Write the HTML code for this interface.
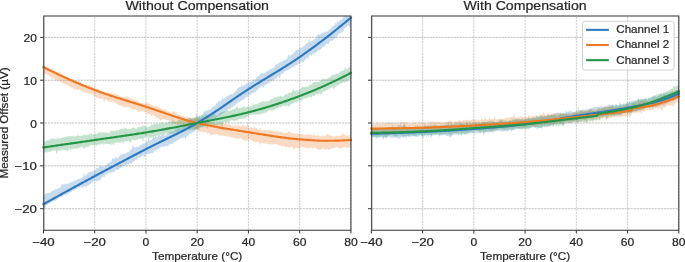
<!DOCTYPE html><html><head><meta charset="utf-8"><style>html,body{margin:0;padding:0;background:#fff;}svg{display:block;will-change:transform;}text{font-family:"Liberation Sans", sans-serif;stroke:#262626;stroke-width:0.22px;}</style></head><body>
<svg width="685" height="262" viewBox="0 0 685 262">
<rect width="685" height="262" fill="#fff"/>
<path d="M43.5 230.1V15.95M94.73 230.1V15.95M145.97 230.1V15.95M197.2 230.1V15.95M248.43 230.1V15.95M299.67 230.1V15.95M350.9 230.1V15.95" stroke="#c2c2c2" stroke-width="0.8" stroke-dasharray="2.2 0.8" stroke-dashoffset="-1.0" fill="none"/>
<path d="M43.5 208.69H350.9M43.5 165.85H350.9M43.5 123.03H350.9M43.5 80.2H350.9M43.5 37.37H350.9" stroke="#adadad" stroke-width="0.8" stroke-dasharray="2.2 0.8" stroke-dashoffset="-1.2" fill="none"/>
<polygon points="43.5,195.98 43.94,195.21 44.38,194.7 44.82,193.93 45.26,193.88 45.7,193.59 46.14,193.86 46.58,192.69 47.02,193.16 47.46,192.8 47.9,192.81 48.34,192.85 48.78,193.04 49.22,192.62 49.66,193.15 50.1,192.65 50.54,191.68 50.98,192.54 51.42,191.05 51.86,191.26 52.3,190.56 52.74,191.07 53.17,189.82 53.61,190.63 54.05,190.49 54.49,190.37 54.93,188.48 55.37,189.55 55.81,189.6 56.25,189.45 56.69,188.51 57.13,189.13 57.57,188.88 58.01,188.81 58.45,188.11 58.89,187.99 59.33,188.27 59.77,187.69 60.21,187.75 60.65,187.28 61.09,186.84 61.53,185.12 61.97,183.32 62.41,184.8 62.85,184.56 63.29,184.25 63.73,184.49 64.17,184.78 64.61,183.96 65.05,182.9 65.49,183.92 65.93,183.94 66.37,184.84 66.81,184.06 67.25,184.06 67.69,183.82 68.13,183.98 68.57,183.27 69.01,182.69 69.45,183.11 69.89,183.05 70.33,182.64 70.77,182.51 71.21,181.28 71.65,182.02 72.09,182.1 72.52,181.48 72.96,180.98 73.4,181.12 73.84,181.25 74.28,181.23 74.72,180.08 75.16,180.84 75.6,180.63 76.04,180.08 76.48,179.99 76.92,180.05 77.36,179.79 77.8,179.78 78.24,178.46 78.68,179.21 79.12,179.01 79.56,179.08 80,179.2 80.44,179.06 80.88,177.85 81.32,178.23 81.76,177.66 82.2,177.05 82.64,177.37 83.08,177.55 83.52,174.79 83.96,173.36 84.4,173.75 84.84,176.36 85.28,175.65 85.72,174.97 86.16,175.58 86.6,174.34 87.04,173.49 87.48,174.32 87.92,173.3 88.36,173.3 88.8,171.6 89.24,172.16 89.68,171.97 90.12,172.19 90.56,171.79 91,171.81 91.44,171.81 91.87,171.07 92.31,170.97 92.75,170.79 93.19,171.58 93.63,171.5 94.07,170.65 94.51,170.86 94.95,170.18 95.39,169.94 95.83,168.75 96.27,167.52 96.71,168.19 97.15,169.62 97.59,167.46 98.03,167.73 98.47,168.08 98.91,166.75 99.35,167.18 99.79,166.53 100.23,166.98 100.67,165.9 101.11,165.18 101.55,166.15 101.99,166.07 102.43,166.82 102.87,166.54 103.31,167.27 103.75,166.74 104.19,166.76 104.63,166.07 105.07,165.76 105.51,165.77 105.95,165.61 106.39,164.7 106.83,164.64 107.27,163.49 107.71,163.12 108.15,163.77 108.59,163.11 109.03,163.26 109.47,162.22 109.91,161.96 110.35,161.76 110.78,161.84 111.22,161.42 111.66,161.11 112.1,158.7 112.54,157.89 112.98,157.68 113.42,159.12 113.86,158.79 114.3,158.89 114.74,158.16 115.18,157.14 115.62,157.33 116.06,157.33 116.5,157.2 116.94,157.86 117.38,158.19 117.82,157.7 118.26,157.14 118.7,157.02 119.14,156.57 119.58,156.4 120.02,155.15 120.46,154.76 120.9,154.15 121.34,154.65 121.78,154.79 122.22,154.71 122.66,154.19 123.1,153.8 123.54,153.57 123.98,153.96 124.42,153.94 124.86,153.86 125.3,153.04 125.74,153.45 126.18,153.13 126.62,152.91 127.06,152.23 127.5,152.31 127.94,152.17 128.38,152.54 128.82,152.16 129.26,151.59 129.7,150.93 130.13,150.12 130.57,150.25 131.01,149.3 131.45,149.08 131.89,149.06 132.33,146.87 132.77,145.03 133.21,145.34 133.65,147.3 134.09,147.26 134.53,147 134.97,147.82 135.41,147.37 135.85,147.84 136.29,147.05 136.73,146.19 137.17,145.97 137.61,147.14 138.05,147.06 138.49,146.55 138.93,146.65 139.37,145.84 139.81,144.85 140.25,145.66 140.69,145.08 141.13,144.39 141.57,144.82 142.01,145.02 142.45,143.98 142.89,143.57 143.33,143.84 143.77,143.17 144.21,143.02 144.65,143.64 145.09,142.96 145.53,142.74 145.97,142.27 146.41,141.17 146.85,141.14 147.29,141.39 147.73,141.77 148.17,140.4 148.61,138.75 149.05,140.01 149.48,140.5 149.92,140.72 150.36,140.69 150.8,140.65 151.24,139.87 151.68,140.37 152.12,138.75 152.56,139.38 153,138.17 153.44,137 153.88,138.27 154.32,137.59 154.76,138.19 155.2,136.16 155.64,135 156.08,135.1 156.52,137.24 156.96,137.34 157.4,137.2 157.84,137.1 158.28,135.33 158.72,135.02 159.16,135.57 159.6,135.89 160.04,136.05 160.48,135.9 160.92,136.09 161.36,135.37 161.8,136 162.24,135.88 162.68,134.95 163.12,134.77 163.56,134.71 164,135.46 164.44,135.33 164.88,135.68 165.32,134.12 165.76,135.15 166.2,135.05 166.64,134.72 167.08,133.84 167.52,134.19 167.96,133.96 168.39,133.05 168.83,133.15 169.27,133.12 169.71,131.66 170.15,132.2 170.59,132.2 171.03,131.28 171.47,131.02 171.91,131.44 172.35,131.16 172.79,131.21 173.23,131.39 173.67,131.18 174.11,130.93 174.55,130.35 174.99,130.12 175.43,128.58 175.87,128.7 176.31,129.08 176.75,128.47 177.19,128.19 177.63,127.12 178.07,127.69 178.51,127.86 178.95,127.65 179.39,127.23 179.83,128.14 180.27,127.55 180.71,127.92 181.15,127.79 181.59,127.52 182.03,127.37 182.47,126.33 182.91,127.32 183.35,126.76 183.79,126.53 184.23,126.48 184.67,125.73 185.11,125.05 185.55,125.42 185.99,125.07 186.43,125.01 186.87,124.98 187.31,123.81 187.74,123.54 188.18,121.73 188.62,121.16 189.06,119.98 189.5,120.33 189.94,119.74 190.38,117.81 190.82,118.45 191.26,119.85 191.7,119.51 192.14,119.44 192.58,119 193.02,119.76 193.46,119.37 193.9,118.27 194.34,119.12 194.78,118.89 195.22,118.02 195.66,118.4 196.1,116.92 196.54,117.48 196.98,117.03 197.42,116.83 197.86,116.78 198.3,116.72 198.74,116.48 199.18,116 199.62,115.29 200.06,115.08 200.5,115.56 200.94,115.6 201.38,115.32 201.82,114.96 202.26,113.52 202.7,114.39 203.14,114.26 203.58,111.16 204.02,110.89 204.46,110.66 204.9,111.78 205.34,111.5 205.78,111.19 206.22,111.33 206.66,109.6 207.09,110.63 207.53,109.78 207.97,109.99 208.41,109.05 208.85,110.41 209.29,109.57 209.73,109.12 210.17,109.74 210.61,109.27 211.05,107.95 211.49,108.71 211.93,107.42 212.37,107.5 212.81,106.82 213.25,106.28 213.69,106.51 214.13,106.25 214.57,106.11 215.01,105.61 215.45,105.41 215.89,104.28 216.33,103.15 216.77,103.53 217.21,103.48 217.65,102.77 218.09,101.81 218.53,100.81 218.97,101.09 219.41,101.42 219.85,101.05 220.29,100.73 220.73,100.17 221.17,100.87 221.61,99.69 222.05,97.91 222.49,96.82 222.93,98.3 223.37,98.98 223.81,98.86 224.25,98.93 224.69,97.99 225.13,98.21 225.57,98.08 226.01,97.15 226.44,95.84 226.88,96.87 227.32,95.75 227.76,95.74 228.2,95.74 228.64,94.67 229.08,95.41 229.52,94.88 229.96,94.42 230.4,94.37 230.84,94.37 231.28,93.65 231.72,94.23 232.16,93.9 232.6,94.43 233.04,93.8 233.48,93 233.92,92.87 234.36,92.17 234.8,91.84 235.24,92 235.68,91.25 236.12,90.37 236.56,90.59 237,89.32 237.44,88.25 237.88,88.01 238.32,88.06 238.76,87.08 239.2,87.16 239.64,87.19 240.08,87.29 240.52,86.83 240.96,86.67 241.4,85.47 241.84,83.97 242.28,85.34 242.72,85.74 243.16,86.23 243.6,86.01 244.04,84.82 244.48,84.48 244.92,84.95 245.35,83.6 245.79,84.21 246.23,83.56 246.67,83.15 247.11,84.12 247.55,83.15 247.99,82.55 248.43,82.57 248.87,82.81 249.31,82.22 249.75,82.64 250.19,81.99 250.63,81.36 251.07,81.63 251.51,81.3 251.95,81.05 252.39,80.41 252.83,80.11 253.27,79.5 253.71,79.11 254.15,79.9 254.59,79.69 255.03,79.41 255.47,79.46 255.91,79 256.35,77.35 256.79,77.62 257.23,76.79 257.67,76.85 258.11,76.2 258.55,76.16 258.99,75.65 259.43,74.75 259.87,74.19 260.31,74.54 260.75,73.33 261.19,72.33 261.63,73.75 262.07,73.34 262.51,73.08 262.95,73.23 263.39,73.86 263.83,72.94 264.27,73.13 264.7,72.4 265.14,72.52 265.58,72.72 266.02,72.05 266.46,71.04 266.9,71.79 267.34,71.62 267.78,70.76 268.22,70.35 268.66,69.62 269.1,70.37 269.54,70.51 269.98,69.53 270.42,68.6 270.86,69.35 271.3,68.94 271.74,69 272.18,68.22 272.62,68.19 273.06,68.49 273.5,67.32 273.94,67.16 274.38,66.88 274.82,66.1 275.26,65.88 275.7,65.05 276.14,64.14 276.58,64.35 277.02,64.3 277.46,64.19 277.9,63.9 278.34,62.67 278.78,63.19 279.22,62.17 279.66,62.73 280.1,62.63 280.54,61.18 280.98,62.46 281.42,62.09 281.86,61.37 282.3,60.81 282.74,61.01 283.18,60.34 283.62,60.77 284.05,60.38 284.49,60.22 284.93,59.19 285.37,59.76 285.81,59.75 286.25,59.27 286.69,59.02 287.13,58.9 287.57,57.38 288.01,55.78 288.45,54.36 288.89,55.05 289.33,56.76 289.77,56.61 290.21,55.77 290.65,54.42 291.09,55.17 291.53,55.6 291.97,54.19 292.41,54.15 292.85,53.59 293.29,53.05 293.73,53.43 294.17,52.14 294.61,52 295.05,52.13 295.49,50.07 295.93,51.11 296.37,50.17 296.81,50.07 297.25,50.6 297.69,49.63 298.13,49.95 298.57,49.62 299.01,48.08 299.45,47.74 299.89,48.59 300.33,48.62 300.77,47.83 301.21,48.05 301.65,47.57 302.09,47.49 302.53,47.26 302.96,46.45 303.4,46.07 303.84,46.26 304.28,45.73 304.72,45.56 305.16,44.64 305.6,44.56 306.04,44.15 306.48,44.05 306.92,42.87 307.36,42.58 307.8,43.09 308.24,43.6 308.68,41.6 309.12,39.08 309.56,40.82 310,41.93 310.44,41.74 310.88,40.21 311.32,41.36 311.76,40.84 312.2,40.61 312.64,40.63 313.08,40.72 313.52,39.91 313.96,38.1 314.4,39.59 314.84,39.09 315.28,38.67 315.72,37.61 316.16,36.71 316.6,36.69 317.04,36.87 317.48,35.06 317.92,33.59 318.36,34.31 318.8,35.17 319.24,33.97 319.68,34.89 320.12,34.59 320.56,34.2 321,33.6 321.44,34.26 321.88,32.87 322.31,32.5 322.75,32.82 323.19,32.89 323.63,32.42 324.07,32.35 324.51,31.8 324.95,31.86 325.39,32.39 325.83,31.86 326.27,31 326.71,31.38 327.15,31.81 327.59,31.84 328.03,31.56 328.47,30.64 328.91,30.31 329.35,29.62 329.79,29.4 330.23,28.73 330.67,28.67 331.11,27.95 331.55,27.04 331.99,26.82 332.43,25.93 332.87,26.42 333.31,25.89 333.75,25.42 334.19,25.25 334.63,25.09 335.07,24.26 335.51,23.06 335.95,22.92 336.39,24.1 336.83,21.96 337.27,19.76 337.71,21.26 338.15,21.82 338.59,22.22 339.03,21.75 339.47,21.02 339.91,20.05 340.35,19.68 340.79,20.11 341.23,19.36 341.66,19.71 342.1,18.86 342.54,17.96 342.98,17.7 343.42,17.11 343.86,16.32 344.3,16.17 344.74,15.95 345.18,15.95 345.62,15.95 346.06,15.95 346.5,15.95 346.94,15.95 347.38,15.95 347.82,15.95 348.26,15.95 348.7,15.95 349.14,15.95 349.58,15.95 350.02,15.95 350.46,15.95 350.9,15.95 350.9,23.98 350.46,24.75 350.02,26.23 349.58,27.67 349.14,26.45 348.7,25.11 348.26,25.45 347.82,25.39 347.38,25.97 346.94,26.92 346.5,26.88 346.06,27.11 345.62,27.39 345.18,27.81 344.74,28.15 344.3,28.85 343.86,29.38 343.42,31.1 342.98,30.52 342.54,32.15 342.1,31.66 341.66,32.82 341.23,32.61 340.79,33.26 340.35,33.03 339.91,33.17 339.47,33.16 339.03,34.3 338.59,34.07 338.15,35.13 337.71,36.06 337.27,35.27 336.83,36.75 336.39,37.13 335.95,37.7 335.51,37.76 335.07,38.58 334.63,38.41 334.19,38.71 333.75,39.22 333.31,39.69 332.87,39.63 332.43,41.47 331.99,41.09 331.55,40.35 331.11,40.26 330.67,40.97 330.23,41.35 329.79,41.85 329.35,42.2 328.91,43.67 328.47,44.45 328.03,44.12 327.59,44.05 327.15,43.56 326.71,43.93 326.27,44.07 325.83,44.75 325.39,45.87 324.95,45.75 324.51,46.11 324.07,46.29 323.63,47.41 323.19,46.74 322.75,46.75 322.31,47.55 321.88,48.27 321.44,48.75 321,48.6 320.56,49.77 320.12,49.39 319.68,50.03 319.24,49.5 318.8,50.93 318.36,50.55 317.92,50.54 317.48,51.26 317.04,51.67 316.6,52.36 316.16,52.53 315.72,52.66 315.28,52.12 314.84,53.03 314.4,53.34 313.96,54.68 313.52,54.51 313.08,53.37 312.64,54.04 312.2,55.04 311.76,56.14 311.32,55.74 310.88,54.49 310.44,55.46 310,55.01 309.56,55.61 309.12,56.24 308.68,58.12 308.24,58.52 307.8,57.77 307.36,57.52 306.92,58.18 306.48,58.38 306.04,58.8 305.6,59.65 305.16,59.51 304.72,60.09 304.28,60.61 303.84,61.77 303.4,62.21 302.96,62.04 302.53,61.65 302.09,62.47 301.65,61.64 301.21,62.36 300.77,62.26 300.33,63.04 299.89,64.61 299.45,63.4 299.01,63.35 298.57,64.28 298.13,64.34 297.69,63.64 297.25,64.5 296.81,65.81 296.37,64.98 295.93,64.96 295.49,66.16 295.05,65.37 294.61,65.67 294.17,67.18 293.73,67.48 293.29,66.73 292.85,66.82 292.41,67.59 291.97,67.57 291.53,67.53 291.09,68.61 290.65,68.79 290.21,69.29 289.77,68.99 289.33,69.29 288.89,69.16 288.45,69.95 288.01,69.85 287.57,70.25 287.13,70.39 286.69,70.55 286.25,70.87 285.81,71.15 285.37,70.91 284.93,70.96 284.49,71.31 284.05,71.79 283.62,72.38 283.18,73.86 282.74,73.89 282.3,73.38 281.86,73.56 281.42,73.95 280.98,74.34 280.54,74.94 280.1,77.39 279.66,79.41 279.22,77.65 278.78,76.15 278.34,75.96 277.9,76.5 277.46,77.5 277.02,77.71 276.58,79.16 276.14,78.27 275.7,78.86 275.26,78.63 274.82,79.45 274.38,79.13 273.94,79.29 273.5,80.11 273.06,79.82 272.62,81.06 272.18,81.17 271.74,80.96 271.3,80.85 270.86,81.5 270.42,82.25 269.98,82.18 269.54,82.9 269.1,82.21 268.66,83.54 268.22,83.4 267.78,83.11 267.34,83.91 266.9,84.64 266.46,84.03 266.02,84.53 265.58,84.74 265.14,85.76 264.7,85.11 264.27,86.31 263.83,87.14 263.39,87.58 262.95,87.47 262.51,87.44 262.07,86.5 261.63,86.14 261.19,86.62 260.75,87.18 260.31,87.9 259.87,87.59 259.43,87.84 258.99,88.45 258.55,88.68 258.11,88.89 257.67,90.03 257.23,89.87 256.79,90.96 256.35,90.75 255.91,91.33 255.47,91.97 255.03,92.05 254.59,92.79 254.15,92.42 253.71,92.73 253.27,92.76 252.83,93.11 252.39,93.14 251.95,94.45 251.51,93.51 251.07,94.32 250.63,94.92 250.19,95.19 249.75,94.66 249.31,95.47 248.87,95.43 248.43,94.8 247.99,96.38 247.55,96.64 247.11,96.54 246.67,97.17 246.23,97.17 245.79,96.79 245.35,97.97 244.92,97.87 244.48,99.95 244.04,98.72 243.6,99.31 243.16,100.01 242.72,99.61 242.28,100.48 241.84,99.99 241.4,100.52 240.96,101.69 240.52,100.66 240.08,101.04 239.64,101.58 239.2,102.2 238.76,101.86 238.32,102.2 237.88,103.28 237.44,102.21 237,103.14 236.56,103.5 236.12,104.15 235.68,104.66 235.24,105 234.8,106.06 234.36,105.98 233.92,105.13 233.48,105.6 233.04,106.72 232.6,107.21 232.16,107.21 231.72,107.04 231.28,107.09 230.84,109.3 230.4,107.93 229.96,108.56 229.52,108.88 229.08,109.08 228.64,108.94 228.2,109.59 227.76,110.54 227.32,110.34 226.88,111.44 226.44,110.55 226.01,111.43 225.57,111.71 225.13,111.6 224.69,112.84 224.25,112.03 223.81,112.74 223.37,112.9 222.93,114.08 222.49,113.54 222.05,114.12 221.61,114.28 221.17,114.42 220.73,114.71 220.29,114.88 219.85,116.16 219.41,115.54 218.97,116 218.53,115.84 218.09,116.47 217.65,115.92 217.21,116.47 216.77,117.3 216.33,117.79 215.89,118.29 215.45,118.56 215.01,118.29 214.57,119.3 214.13,118.61 213.69,118.76 213.25,118.83 212.81,119.63 212.37,118.81 211.93,120.48 211.49,121.34 211.05,121.23 210.61,119.68 210.17,120.08 209.73,120.67 209.29,121.66 208.85,122.88 208.41,123.32 207.97,122.52 207.53,123.1 207.09,123.02 206.66,124.06 206.22,124.76 205.78,124.57 205.34,125.14 204.9,124.6 204.46,125.07 204.02,126.41 203.58,125.12 203.14,126.51 202.7,126.79 202.26,126.62 201.82,126.38 201.38,126.62 200.94,126.73 200.5,126.99 200.06,127.45 199.62,128.07 199.18,127.52 198.74,127.6 198.3,129.21 197.86,128.61 197.42,128.52 196.98,128.69 196.54,129.28 196.1,129.77 195.66,129.91 195.22,130.62 194.78,131.32 194.34,131.93 193.9,132.25 193.46,131.68 193.02,132.08 192.58,132.3 192.14,132.59 191.7,132.82 191.26,133.79 190.82,133.88 190.38,133.27 189.94,133.84 189.5,134.01 189.06,134.3 188.62,136.05 188.18,135.43 187.74,135.29 187.31,136.57 186.87,136.11 186.43,136.38 185.99,137.59 185.55,139.3 185.11,141.11 184.67,137.28 184.23,136.5 183.79,136.93 183.35,138.61 182.91,136.74 182.47,138.44 182.03,137.5 181.59,138.42 181.15,137.72 180.71,138.01 180.27,139.05 179.83,138.87 179.39,139.24 178.95,139.42 178.51,139.99 178.07,140.35 177.63,140.23 177.19,140.77 176.75,140.22 176.31,140.69 175.87,141.24 175.43,141.97 174.99,142.19 174.55,142.03 174.11,141.99 173.67,142.52 173.23,143.87 172.79,143.01 172.35,144.14 171.91,143.72 171.47,143.87 171.03,143.72 170.59,143.58 170.15,144.91 169.71,145.26 169.27,143.72 168.83,143.88 168.39,145.81 167.96,147.27 167.52,146.32 167.08,145.66 166.64,145.95 166.2,146.18 165.76,146.32 165.32,145.57 164.88,146.74 164.44,146.74 164,146.58 163.56,146.64 163.12,146.67 162.68,147.02 162.24,146.39 161.8,146.81 161.36,147.33 160.92,147.25 160.48,147.57 160.04,147.52 159.6,147.64 159.16,148.69 158.72,149.02 158.28,148.88 157.84,148.46 157.4,148.79 156.96,150.51 156.52,149.49 156.08,150.89 155.64,150.69 155.2,150.11 154.76,150.52 154.32,150.62 153.88,151.4 153.44,152.5 153,152.53 152.56,152.99 152.12,153.06 151.68,153.02 151.24,152.74 150.8,153.63 150.36,153.28 149.92,153.87 149.48,153.91 149.05,153.29 148.61,153.75 148.17,154.01 147.73,153.92 147.29,154.55 146.85,154.71 146.41,154.22 145.97,154.07 145.53,154.97 145.09,156.89 144.65,156.04 144.21,156.15 143.77,154.95 143.33,156.16 142.89,155.96 142.45,155.65 142.01,156.09 141.57,156.72 141.13,156.93 140.69,156.67 140.25,158.23 139.81,157.69 139.37,157.73 138.93,158.18 138.49,157.78 138.05,157.91 137.61,159.26 137.17,160.05 136.73,160.09 136.29,159.15 135.85,159.56 135.41,160.7 134.97,160.04 134.53,161.52 134.09,161.35 133.65,161.79 133.21,161.45 132.77,162.41 132.33,162.33 131.89,163.28 131.45,163.48 131.01,163.73 130.57,163.75 130.13,162.95 129.7,163 129.26,163.81 128.82,164.1 128.38,165.69 127.94,164.11 127.5,164.53 127.06,164.7 126.62,166.09 126.18,164.98 125.74,165.94 125.3,165.1 124.86,165.38 124.42,165.69 123.98,166.21 123.54,165.64 123.1,166.57 122.66,166.74 122.22,167.66 121.78,166.92 121.34,167.27 120.9,167.69 120.46,168.61 120.02,168.04 119.58,168.45 119.14,169.29 118.7,169.62 118.26,169.64 117.82,169.92 117.38,170.33 116.94,169.34 116.5,169.84 116.06,169.88 115.62,169.84 115.18,171.1 114.74,171.98 114.3,171.7 113.86,171.42 113.42,172.28 112.98,171.9 112.54,172.34 112.1,172.75 111.66,171.97 111.22,172.98 110.78,172.83 110.35,173.2 109.91,172.97 109.47,172.34 109.03,172.94 108.59,173.25 108.15,173.08 107.71,173.97 107.27,173.44 106.83,174.41 106.39,174.73 105.95,174.31 105.51,174.49 105.07,175.34 104.63,176.7 104.19,177.06 103.75,177.18 103.31,176.26 102.87,176.85 102.43,176.76 101.99,176.93 101.55,177.64 101.11,178.56 100.67,179.26 100.23,180.28 99.79,180.43 99.35,180.33 98.91,179.82 98.47,180.13 98.03,181.69 97.59,180.86 97.15,180.45 96.71,181.9 96.27,181.41 95.83,180.77 95.39,181.06 94.95,181.03 94.51,180.96 94.07,181 93.63,181.06 93.19,181.62 92.75,181.88 92.31,182.66 91.87,182.44 91.44,182.86 91,183.06 90.56,184.22 90.12,183.9 89.68,183.98 89.24,184.49 88.8,185.1 88.36,184.88 87.92,184.84 87.48,185.75 87.04,185.68 86.6,186.66 86.16,185.92 85.72,187.28 85.28,187.46 84.84,186.42 84.4,186.02 83.96,186.52 83.52,186.77 83.08,187.88 82.64,188.43 82.2,186.86 81.76,186.55 81.32,186.63 80.88,186.68 80.44,187.03 80,187.42 79.56,187.68 79.12,187.58 78.68,187.77 78.24,188.07 77.8,188.54 77.36,188.08 76.92,189.24 76.48,189.05 76.04,189.48 75.6,190 75.16,188.95 74.72,189.76 74.28,190.86 73.84,190.47 73.4,190.78 72.96,190.07 72.52,190.5 72.09,191.68 71.65,192.05 71.21,191.91 70.77,192.08 70.33,192.5 69.89,192.32 69.45,192.34 69.01,193.54 68.57,193.08 68.13,194.26 67.69,194.14 67.25,193.9 66.81,195.49 66.37,194.29 65.93,193.96 65.49,194.71 65.05,194.65 64.61,195.32 64.17,194.72 63.73,195.19 63.29,194.73 62.85,195.25 62.41,195.97 61.97,196.8 61.53,196.45 61.09,197.16 60.65,196.94 60.21,197.01 59.77,197.12 59.33,197.8 58.89,197.46 58.45,198.35 58.01,199.06 57.57,199.44 57.13,199.58 56.69,199.52 56.25,199.61 55.81,200.4 55.37,200.44 54.93,201.02 54.49,200.38 54.05,200.22 53.61,201.01 53.17,201.57 52.74,200.95 52.3,201.8 51.86,201.92 51.42,202.22 50.98,201.99 50.54,202.38 50.1,203.25 49.66,203.5 49.22,204.2 48.78,203.54 48.34,203.84 47.9,204.51 47.46,204.6 47.02,204.9 46.58,204.89 46.14,206.92 45.7,206.52 45.26,207.13 44.82,207.26 44.38,207.68 43.94,207.84 43.5,208.97" fill="#3179bf" fill-opacity="0.27"/>
<polygon points="43.5,64.73 43.94,65.68 44.38,65.78 44.82,66.28 45.26,66.22 45.7,65.98 46.14,67 46.58,66.75 47.02,66.24 47.46,68.15 47.9,68.62 48.34,67.93 48.78,68.79 49.22,68.43 49.66,68.35 50.1,68.6 50.54,68.73 50.98,68.92 51.42,68.39 51.86,69.3 52.3,68.62 52.74,68.8 53.17,70.1 53.61,69.87 54.05,70.2 54.49,70.85 54.93,71.71 55.37,71.01 55.81,71.75 56.25,72.31 56.69,71.67 57.13,71.11 57.57,72.22 58.01,72.78 58.45,72.8 58.89,72.08 59.33,72.67 59.77,72.22 60.21,72.39 60.65,73.28 61.09,73.49 61.53,73.74 61.97,74 62.41,74.58 62.85,75.36 63.29,75.68 63.73,75.43 64.17,75.29 64.61,76.41 65.05,76.33 65.49,76.71 65.93,76.32 66.37,76.71 66.81,76.97 67.25,76.2 67.69,76.37 68.13,77.43 68.57,78.16 69.01,78.42 69.45,78.24 69.89,78.15 70.33,78.72 70.77,78.69 71.21,78.75 71.65,78.4 72.09,79.21 72.52,79.27 72.96,79.39 73.4,80.14 73.84,78.67 74.28,80.13 74.72,80.17 75.16,79.78 75.6,79.88 76.04,80.62 76.48,80.59 76.92,80.92 77.36,80.84 77.8,81.26 78.24,81.28 78.68,80.83 79.12,81.96 79.56,81.73 80,81.39 80.44,81.82 80.88,82.59 81.32,82.63 81.76,82.91 82.2,83.35 82.64,83.44 83.08,84.08 83.52,84.3 83.96,84.64 84.4,84.98 84.84,85.27 85.28,85.29 85.72,83.64 86.16,85.39 86.6,85.02 87.04,85.14 87.48,85.38 87.92,85.58 88.36,84.74 88.8,84.09 89.24,85.47 89.68,84.74 90.12,86.09 90.56,86.8 91,86.1 91.44,85.86 91.87,87.15 92.31,87.32 92.75,86.89 93.19,87.82 93.63,88.54 94.07,87.07 94.51,88.19 94.95,88.3 95.39,88.09 95.83,88.45 96.27,89.33 96.71,89.09 97.15,88.95 97.59,88.07 98.03,89.36 98.47,88.67 98.91,89.85 99.35,90.24 99.79,90.11 100.23,89.69 100.67,90.52 101.11,90.59 101.55,90.97 101.99,90.87 102.43,91.25 102.87,92.09 103.31,91.8 103.75,92.02 104.19,92.35 104.63,92.18 105.07,92.15 105.51,92.3 105.95,92.46 106.39,92.63 106.83,92.26 107.27,92.69 107.71,92.23 108.15,92.95 108.59,92.3 109.03,92.12 109.47,93.23 109.91,92.19 110.35,93.06 110.78,93.72 111.22,92.36 111.66,92.44 112.1,93.61 112.54,94.32 112.98,94.26 113.42,93.66 113.86,92.72 114.3,94.24 114.74,93.89 115.18,93.4 115.62,93.85 116.06,94.22 116.5,94.13 116.94,95.17 117.38,94.87 117.82,95.08 118.26,94.71 118.7,95.16 119.14,96 119.58,95.57 120.02,96.08 120.46,96.32 120.9,96.83 121.34,96.8 121.78,96.79 122.22,97.37 122.66,96.78 123.1,97.31 123.54,97.09 123.98,97.26 124.42,96.57 124.86,97.42 125.3,97.26 125.74,96.49 126.18,97.6 126.62,96.25 127.06,96.19 127.5,96.77 127.94,96.38 128.38,97.43 128.82,97.37 129.26,97.45 129.7,98.05 130.13,98.05 130.57,98.73 131.01,98.3 131.45,99.16 131.89,99.18 132.33,99.63 132.77,99.55 133.21,99.28 133.65,99.87 134.09,100.11 134.53,100.38 134.97,100.51 135.41,100.02 135.85,99.45 136.29,100.46 136.73,100.96 137.17,100.8 137.61,99.86 138.05,100.25 138.49,100.63 138.93,102.24 139.37,102.32 139.81,102.33 140.25,102.6 140.69,102.96 141.13,102.12 141.57,102.74 142.01,103.43 142.45,103.43 142.89,103.3 143.33,103.42 143.77,103.56 144.21,103.98 144.65,102.98 145.09,102.35 145.53,102.69 145.97,102.97 146.41,102.76 146.85,103.81 147.29,103.19 147.73,103.94 148.17,102.82 148.61,102.86 149.05,103.61 149.48,102.95 149.92,104.56 150.36,104.3 150.8,104.63 151.24,105.11 151.68,104.69 152.12,104.89 152.56,104.67 153,106.2 153.44,106.55 153.88,106.31 154.32,106.73 154.76,106.49 155.2,106.69 155.64,106.46 156.08,106.02 156.52,106.66 156.96,107.23 157.4,106.12 157.84,106.94 158.28,106.49 158.72,107.52 159.16,107.99 159.6,107.58 160.04,108.76 160.48,107.49 160.92,109.14 161.36,108.23 161.8,108.93 162.24,108.42 162.68,109.36 163.12,109.02 163.56,109.65 164,110.07 164.44,109.48 164.88,108.72 165.32,109.65 165.76,110.02 166.2,110.67 166.64,111 167.08,110.66 167.52,111.47 167.96,111.26 168.39,111.73 168.83,110.98 169.27,111.96 169.71,111.28 170.15,112.02 170.59,112.48 171.03,112.83 171.47,112.44 171.91,112.33 172.35,112.1 172.79,111.83 173.23,111.7 173.67,111.78 174.11,111.21 174.55,111.06 174.99,113.82 175.43,112.05 175.87,111.83 176.31,112.13 176.75,113.82 177.19,114.46 177.63,114.52 178.07,114.67 178.51,114.35 178.95,113.91 179.39,115.07 179.83,115.01 180.27,115.36 180.71,114.31 181.15,115.75 181.59,115.79 182.03,116.14 182.47,116.28 182.91,115.58 183.35,116.55 183.79,115.55 184.23,116.17 184.67,116.61 185.11,117.22 185.55,117.38 185.99,116.96 186.43,115.66 186.87,117 187.31,116.49 187.74,117.02 188.18,116.98 188.62,117.42 189.06,117.54 189.5,117.55 189.94,116.85 190.38,117.97 190.82,118.4 191.26,118.57 191.7,118.79 192.14,117.78 192.58,118.36 193.02,117.78 193.46,116.51 193.9,118.46 194.34,117.85 194.78,117.3 195.22,118.66 195.66,117.43 196.1,118.32 196.54,118.17 196.98,117.37 197.42,118.53 197.86,118.17 198.3,117.85 198.74,118.4 199.18,118.47 199.62,117.6 200.06,118.8 200.5,119.59 200.94,118.64 201.38,118.68 201.82,117.55 202.26,115.97 202.7,118.28 203.14,120.82 203.58,120.55 204.02,119.38 204.46,119.88 204.9,119.92 205.34,120.54 205.78,120.71 206.22,120.44 206.66,119.76 207.09,120.9 207.53,119.03 207.97,117.58 208.41,118.8 208.85,121.64 209.29,121.93 209.73,121.96 210.17,121.68 210.61,121.32 211.05,121.87 211.49,122.41 211.93,122.16 212.37,122.76 212.81,122.82 213.25,122.22 213.69,121.54 214.13,121.9 214.57,122.39 215.01,123.22 215.45,124.01 215.89,123.29 216.33,123.87 216.77,123.56 217.21,123.5 217.65,124.52 218.09,124.36 218.53,124.37 218.97,123.83 219.41,123.61 219.85,123.86 220.29,122.9 220.73,123.61 221.17,123.67 221.61,121.97 222.05,123.13 222.49,123.11 222.93,122.39 223.37,123.43 223.81,123.57 224.25,123.7 224.69,122.9 225.13,123.39 225.57,123.86 226.01,124.21 226.44,123.87 226.88,124.64 227.32,124 227.76,124.53 228.2,124.01 228.64,124.35 229.08,123.67 229.52,123.36 229.96,124.7 230.4,124.98 230.84,125.47 231.28,125.21 231.72,125.26 232.16,125.2 232.6,125.42 233.04,125.64 233.48,125.76 233.92,125.48 234.36,125.59 234.8,125.77 235.24,123.9 235.68,125.44 236.12,126.05 236.56,125.71 237,125.25 237.44,124.99 237.88,125.89 238.32,125.62 238.76,125.6 239.2,125.81 239.64,125.71 240.08,126.14 240.52,126.31 240.96,125.83 241.4,126.07 241.84,126.35 242.28,125.59 242.72,125.25 243.16,125.59 243.6,125.39 244.04,125.44 244.48,125.42 244.92,125.64 245.35,124.84 245.79,125.9 246.23,126.02 246.67,126.76 247.11,123.64 247.55,123.13 247.99,125.13 248.43,127.74 248.87,128.12 249.31,127.92 249.75,128.05 250.19,127.58 250.63,127.94 251.07,127.87 251.51,127.45 251.95,128.15 252.39,128.37 252.83,128.83 253.27,128.3 253.71,128.83 254.15,126.98 254.59,126.86 255.03,127.47 255.47,129.4 255.91,127.59 256.35,128.5 256.79,127.42 257.23,128.53 257.67,129.22 258.11,129.04 258.55,129.6 258.99,128.73 259.43,128.92 259.87,128.23 260.31,127.36 260.75,128.72 261.19,130.46 261.63,130.3 262.07,130.32 262.51,130.4 262.95,130.53 263.39,130.2 263.83,130.64 264.27,129.75 264.7,129.65 265.14,129.5 265.58,130.05 266.02,130.23 266.46,129.39 266.9,130.34 267.34,129.9 267.78,130.54 268.22,130.03 268.66,129.75 269.1,130.48 269.54,130.32 269.98,130.46 270.42,129.64 270.86,130.82 271.3,130.91 271.74,130.28 272.18,130.41 272.62,130.89 273.06,130.77 273.5,131.24 273.94,131.65 274.38,130.74 274.82,131.3 275.26,131.41 275.7,131.26 276.14,131.21 276.58,131.74 277.02,131 277.46,130.14 277.9,131.63 278.34,131.98 278.78,131.13 279.22,131.18 279.66,131.69 280.1,131.7 280.54,132.06 280.98,131.37 281.42,132.49 281.86,131.93 282.3,132.46 282.74,132.8 283.18,131.81 283.62,133.35 284.05,133.13 284.49,133.3 284.93,133.14 285.37,133.48 285.81,132.35 286.25,133.09 286.69,132.64 287.13,132.53 287.57,132.65 288.01,131.3 288.45,131.93 288.89,132 289.33,131.84 289.77,131.25 290.21,131.82 290.65,132.62 291.09,132.86 291.53,133.08 291.97,133.22 292.41,133 292.85,133.45 293.29,133.39 293.73,133.61 294.17,133.15 294.61,133.54 295.05,133.02 295.49,134.17 295.93,133.64 296.37,133.73 296.81,134.13 297.25,133.12 297.69,134.35 298.13,133.57 298.57,133.94 299.01,134.15 299.45,134.33 299.89,134.25 300.33,134.37 300.77,133.24 301.21,134.61 301.65,134.12 302.09,134.13 302.53,134.26 302.96,134.72 303.4,134.66 303.84,134.05 304.28,134.88 304.72,134.92 305.16,134.64 305.6,135.02 306.04,134.91 306.48,134.22 306.92,134.46 307.36,134.58 307.8,134 308.24,134.7 308.68,134.59 309.12,133.18 309.56,134.73 310,134.76 310.44,134.93 310.88,134.62 311.32,134.55 311.76,134.8 312.2,135.79 312.64,134.72 313.08,134.98 313.52,134.65 313.96,132.23 314.4,134.14 314.84,135.57 315.28,135.13 315.72,135.9 316.16,134.93 316.6,135.81 317.04,134.92 317.48,135.67 317.92,135.59 318.36,134.57 318.8,135.65 319.24,135.85 319.68,136.43 320.12,136.31 320.56,136.41 321,136.35 321.44,136.31 321.88,135.83 322.31,136.05 322.75,136.31 323.19,136.46 323.63,135.35 324.07,135.65 324.51,135.7 324.95,136.17 325.39,135.91 325.83,135.98 326.27,134.34 326.71,134.02 327.15,133.93 327.59,134 328.03,135.83 328.47,134.81 328.91,135.26 329.35,135.14 329.79,135.28 330.23,135.18 330.67,135.83 331.11,135.89 331.55,135.39 331.99,135.41 332.43,136.51 332.87,136.61 333.31,136.59 333.75,135.85 334.19,136.91 334.63,137.17 335.07,136.1 335.51,135.62 335.95,135.66 336.39,136.2 336.83,135.35 337.27,135.32 337.71,136.55 338.15,136.38 338.59,136.49 339.03,135.64 339.47,136.06 339.91,136.11 340.35,135.65 340.79,135.97 341.23,135.23 341.66,134.95 342.1,134.66 342.54,134.45 342.98,133.51 343.42,132.52 343.86,133.7 344.3,135.32 344.74,135.28 345.18,134.59 345.62,135.07 346.06,135.58 346.5,136.11 346.94,135.59 347.38,135.32 347.82,135.63 348.26,136.17 348.7,134.94 349.14,134.35 349.58,135.13 350.02,135.32 350.46,134.71 350.9,134.17 350.9,146.77 350.46,147.4 350.02,146.81 349.58,146.82 349.14,147.5 348.7,146.67 348.26,147.68 347.82,147.84 347.38,147.48 346.94,149.1 346.5,147.92 346.06,147.97 345.62,147.13 345.18,146.7 344.74,146.37 344.3,146.71 343.86,147.12 343.42,147.34 342.98,147.63 342.54,147.61 342.1,147.98 341.66,147.84 341.23,149.23 340.79,147.99 340.35,147.71 339.91,148.21 339.47,148.07 339.03,147.78 338.59,147.93 338.15,147.2 337.71,147.39 337.27,147.14 336.83,146.97 336.39,146.92 335.95,147.19 335.51,147.47 335.07,148.34 334.63,147.42 334.19,148.49 333.75,147.78 333.31,148.02 332.87,149.06 332.43,148.57 331.99,147.93 331.55,148.84 331.11,148.94 330.67,148.38 330.23,149.14 329.79,148.91 329.35,148.93 328.91,149.54 328.47,150.48 328.03,149.15 327.59,149.48 327.15,148.7 326.71,148.52 326.27,149.37 325.83,150.58 325.39,149.25 324.95,149.5 324.51,148.7 324.07,148.76 323.63,148.19 323.19,149.31 322.75,148.52 322.31,148.18 321.88,149.81 321.44,149.14 321,149.46 320.56,149.08 320.12,148.97 319.68,149.23 319.24,149.4 318.8,149.83 318.36,151.31 317.92,149.74 317.48,149.32 317.04,149.42 316.6,148.16 316.16,148.7 315.72,148.51 315.28,147.48 314.84,147.55 314.4,147.21 313.96,147.77 313.52,148.03 313.08,148.73 312.64,148.83 312.2,147.66 311.76,147.61 311.32,147.51 310.88,147.66 310.44,148.2 310,148.4 309.56,147.9 309.12,148.02 308.68,147.9 308.24,147.63 307.8,147.74 307.36,148.65 306.92,147.92 306.48,148.01 306.04,148.92 305.6,147.58 305.16,147.34 304.72,147.48 304.28,147.53 303.84,147.15 303.4,147.49 302.96,146.97 302.53,146.39 302.09,146.8 301.65,147.24 301.21,146.75 300.77,146.37 300.33,146.69 299.89,150.4 299.45,150.23 299.01,148.25 298.57,147.97 298.13,149.44 297.69,148.86 297.25,147.76 296.81,147.44 296.37,147.83 295.93,147.23 295.49,148.22 295.05,149.08 294.61,148.35 294.17,148.21 293.73,149.54 293.29,149.01 292.85,147.28 292.41,147.16 291.97,146.75 291.53,146.75 291.09,146.85 290.65,147.59 290.21,148.16 289.77,146.99 289.33,147.59 288.89,147.74 288.45,148.07 288.01,146.97 287.57,146.72 287.13,146.37 286.69,148.05 286.25,147.53 285.81,147.47 285.37,146.13 284.93,145.97 284.49,146.69 284.05,146.9 283.62,146.03 283.18,145.81 282.74,146.37 282.3,146.61 281.86,146.36 281.42,146.56 280.98,146.03 280.54,145.55 280.1,145.74 279.66,144.83 279.22,145.56 278.78,145.6 278.34,144.68 277.9,144.22 277.46,145.14 277.02,143.71 276.58,144.67 276.14,143.55 275.7,144.17 275.26,144.19 274.82,143.56 274.38,144.46 273.94,144.26 273.5,144.58 273.06,144.05 272.62,144.04 272.18,144.7 271.74,143.88 271.3,143.84 270.86,144.27 270.42,144.92 269.98,145.38 269.54,143.55 269.1,143.97 268.66,144.31 268.22,143.51 267.78,143.53 267.34,143.78 266.9,143.61 266.46,143.45 266.02,143.18 265.58,143.39 265.14,142.93 264.7,143.06 264.27,143.1 263.83,144.08 263.39,143.32 262.95,142.73 262.51,143.71 262.07,143.01 261.63,143.27 261.19,143.32 260.75,142.32 260.31,144.42 259.87,145.35 259.43,143.87 258.99,141.37 258.55,141.49 258.11,141.8 257.67,143.44 257.23,142.02 256.79,141.79 256.35,142.3 255.91,141.73 255.47,142.06 255.03,141.98 254.59,143.71 254.15,141.56 253.71,141.58 253.27,141.67 252.83,140.88 252.39,141.19 251.95,141.12 251.51,139.93 251.07,139.81 250.63,140.06 250.19,139.26 249.75,139.97 249.31,139.46 248.87,139.86 248.43,139.38 247.99,140.45 247.55,140.53 247.11,140.95 246.67,140.24 246.23,139.88 245.79,140.24 245.35,141.93 244.92,140.64 244.48,140.36 244.04,139.83 243.6,139.79 243.16,139.65 242.72,139.92 242.28,139.71 241.84,138.46 241.4,138.02 240.96,138.66 240.52,138.58 240.08,137.98 239.64,138.16 239.2,138.29 238.76,139.09 238.32,139.42 237.88,137.96 237.44,138.47 237,138.12 236.56,139.29 236.12,138.36 235.68,138.21 235.24,137.89 234.8,137.99 234.36,137.87 233.92,139.85 233.48,137.86 233.04,137.63 232.6,137.53 232.16,137.02 231.72,138.42 231.28,136.78 230.84,136.78 230.4,136.68 229.96,136.19 229.52,137.18 229.08,136.88 228.64,136.09 228.2,137.71 227.76,136.67 227.32,136.46 226.88,135.34 226.44,137.61 226.01,136.51 225.57,136.06 225.13,135.75 224.69,135.84 224.25,136.25 223.81,135.72 223.37,135.75 222.93,135.71 222.49,135.6 222.05,136.12 221.61,135.45 221.17,135.96 220.73,135.57 220.29,135.73 219.85,135.31 219.41,135.13 218.97,134.76 218.53,135.64 218.09,135.3 217.65,135.1 217.21,134.25 216.77,134.73 216.33,133.68 215.89,134.81 215.45,134.09 215.01,134.82 214.57,134.01 214.13,134.83 213.69,134.37 213.25,134.47 212.81,133.93 212.37,134.75 211.93,134.73 211.49,134.96 211.05,134.68 210.61,134.05 210.17,135.31 209.73,134.06 209.29,133.74 208.85,133.38 208.41,132.92 207.97,133.18 207.53,134.74 207.09,133.52 206.66,131.98 206.22,131.99 205.78,132.5 205.34,131.76 204.9,132.3 204.46,132.47 204.02,131.62 203.58,132.44 203.14,132.79 202.7,130.92 202.26,131.69 201.82,131.46 201.38,132.03 200.94,131.42 200.5,131.45 200.06,132.64 199.62,132.45 199.18,131 198.74,129.67 198.3,129.43 197.86,129.8 197.42,129.45 196.98,129.69 196.54,129.79 196.1,129.68 195.66,129.65 195.22,130.03 194.78,130.44 194.34,130.04 193.9,129.33 193.46,128.83 193.02,129.73 192.58,128.52 192.14,127.98 191.7,128.75 191.26,127.92 190.82,127.26 190.38,127.05 189.94,127.37 189.5,126.49 189.06,127.49 188.62,126.77 188.18,127.18 187.74,126.38 187.31,127.86 186.87,126.99 186.43,126.02 185.99,127.03 185.55,126.15 185.11,126.4 184.67,126.57 184.23,127.4 183.79,126.19 183.35,127.1 182.91,126.15 182.47,125.49 182.03,125.41 181.59,125.22 181.15,125.54 180.71,124.79 180.27,124.13 179.83,124.17 179.39,125.16 178.95,125.08 178.51,124.4 178.07,125.13 177.63,124.66 177.19,124.03 176.75,124.79 176.31,123.97 175.87,123.56 175.43,123.53 174.99,124.14 174.55,123.55 174.11,123.46 173.67,123.6 173.23,123.75 172.79,122.04 172.35,124.28 171.91,123.44 171.47,122.44 171.03,121.92 170.59,120.73 170.15,120.67 169.71,122.03 169.27,120.11 168.83,120.92 168.39,119.69 167.96,120.37 167.52,119.85 167.08,119.78 166.64,119.66 166.2,120.13 165.76,119.81 165.32,119.83 164.88,119.38 164.44,119.77 164,118.75 163.56,119.09 163.12,119.2 162.68,119.24 162.24,119.11 161.8,119.55 161.36,120.56 160.92,119.39 160.48,120.63 160.04,120.57 159.6,118.86 159.16,119.06 158.72,119.86 158.28,118.07 157.84,118 157.4,117.79 156.96,117.66 156.52,117.95 156.08,118.28 155.64,116.14 155.2,116.39 154.76,115.95 154.32,115.87 153.88,115.98 153.44,115.55 153,115.59 152.56,115.1 152.12,115.32 151.68,115.89 151.24,116.12 150.8,114.21 150.36,114.76 149.92,113.87 149.48,114.54 149.05,114.03 148.61,113.09 148.17,115.28 147.73,114.94 147.29,112.97 146.85,112.58 146.41,112.52 145.97,112.58 145.53,112.95 145.09,112.12 144.65,112.42 144.21,111.48 143.77,111.67 143.33,111.4 142.89,111.11 142.45,111.82 142.01,111.23 141.57,112.02 141.13,111.4 140.69,111.22 140.25,110.78 139.81,111.48 139.37,112.39 138.93,111.91 138.49,111.4 138.05,111.66 137.61,110.48 137.17,110.18 136.73,109.65 136.29,109.26 135.85,109.52 135.41,109.18 134.97,110.11 134.53,110.34 134.09,108.73 133.65,108.54 133.21,110.32 132.77,111.04 132.33,110 131.89,108.29 131.45,108.03 131.01,108.26 130.57,109.62 130.13,107.66 129.7,107.23 129.26,108.64 128.82,107.19 128.38,107.29 127.94,107.26 127.5,106.92 127.06,107.08 126.62,107 126.18,107.28 125.74,107.42 125.3,106.75 124.86,108.16 124.42,107.56 123.98,106.81 123.54,106.64 123.1,106.68 122.66,106.53 122.22,106.42 121.78,106.03 121.34,106.04 120.9,106.03 120.46,104.88 120.02,105 119.58,104.73 119.14,105.35 118.7,105.54 118.26,104.84 117.82,103.74 117.38,103.92 116.94,103.61 116.5,103.28 116.06,103.63 115.62,103.12 115.18,102.47 114.74,102.36 114.3,102.97 113.86,102.15 113.42,102.51 112.98,101.65 112.54,101.83 112.1,101.55 111.66,102.46 111.22,101.77 110.78,101.66 110.35,102.52 109.91,101.13 109.47,100.9 109.03,101.89 108.59,100.93 108.15,101.71 107.71,100.53 107.27,100.88 106.83,99.89 106.39,99.83 105.95,99.59 105.51,99.47 105.07,99.18 104.63,100.9 104.19,102.17 103.75,100.2 103.31,99.8 102.87,98.59 102.43,98.39 101.99,98.17 101.55,98.57 101.11,98.49 100.67,99.19 100.23,98.16 99.79,98.93 99.35,98.38 98.91,98.24 98.47,97.75 98.03,97.8 97.59,98.03 97.15,97.72 96.71,97.76 96.27,97.52 95.83,96.48 95.39,96.25 94.95,95.7 94.51,95.99 94.07,94.97 93.63,94.94 93.19,95.3 92.75,95.57 92.31,93.63 91.87,93.97 91.44,94.01 91,94.11 90.56,93.73 90.12,93.89 89.68,93.42 89.24,93.95 88.8,93.18 88.36,93.44 87.92,93.35 87.48,93.37 87.04,92.51 86.6,92.69 86.16,92.42 85.72,92.89 85.28,93.06 84.84,92.6 84.4,92.09 83.96,92.51 83.52,92.72 83.08,91.79 82.64,90.64 82.2,92.18 81.76,90.52 81.32,90.7 80.88,90.64 80.44,90.84 80,89.47 79.56,89.48 79.12,89.62 78.68,89.39 78.24,89.75 77.8,89.97 77.36,89.64 76.92,89.94 76.48,88.84 76.04,89.09 75.6,88.69 75.16,89.3 74.72,90.05 74.28,89.06 73.84,88.31 73.4,89.14 72.96,89.62 72.52,87.42 72.09,88.28 71.65,87.72 71.21,87.46 70.77,87.48 70.33,86.93 69.89,86.2 69.45,86.4 69.01,85.88 68.57,85.22 68.13,85.55 67.69,85.92 67.25,84.99 66.81,84.83 66.37,85.6 65.93,84.4 65.49,84.52 65.05,84.42 64.61,83.9 64.17,83.56 63.73,83.77 63.29,84.26 62.85,83.35 62.41,82.94 61.97,82.28 61.53,82.49 61.09,82.34 60.65,81.74 60.21,81.5 59.77,81.17 59.33,81.19 58.89,80.73 58.45,80.71 58.01,81.19 57.57,81.61 57.13,80.94 56.69,80.67 56.25,80.22 55.81,80.5 55.37,80.43 54.93,79.46 54.49,79.57 54.05,78.76 53.61,78.44 53.17,78.06 52.74,79.28 52.3,78.06 51.86,77.36 51.42,76.92 50.98,77.02 50.54,76.33 50.1,76.65 49.66,76.04 49.22,76.5 48.78,75.02 48.34,75.18 47.9,74.67 47.46,74.64 47.02,74.17 46.58,74.58 46.14,74.31 45.7,74.21 45.26,73.81 44.82,74.59 44.38,74.92 43.94,73.71 43.5,73.88" fill="#f07823" fill-opacity="0.27"/>
<polygon points="43.5,140.95 43.94,141.35 44.38,140.65 44.82,141.16 45.26,142.1 45.7,141.92 46.14,141.19 46.58,140.41 47.02,140.95 47.46,140.72 47.9,139.47 48.34,140.91 48.78,139.15 49.22,139.65 49.66,139.84 50.1,139.02 50.54,138.83 50.98,139.15 51.42,138.7 51.86,138.12 52.3,138.84 52.74,138.22 53.17,139.03 53.61,138.88 54.05,138.59 54.49,138.86 54.93,139.17 55.37,139.55 55.81,139 56.25,138.44 56.69,139.48 57.13,138.3 57.57,136.88 58.01,138.1 58.45,138.85 58.89,139.06 59.33,138.68 59.77,138.28 60.21,138.67 60.65,137.84 61.09,138.14 61.53,137.5 61.97,138.12 62.41,137.88 62.85,136.81 63.29,137.55 63.73,137.24 64.17,136.79 64.61,137.2 65.05,137.11 65.49,136.21 65.93,137.32 66.37,136.62 66.81,137.17 67.25,135.15 67.69,136.93 68.13,136.51 68.57,135.68 69.01,136.39 69.45,135.82 69.89,136.57 70.33,136.21 70.77,136.22 71.21,136.45 71.65,135.85 72.09,136.18 72.52,135.87 72.96,136.01 73.4,134.96 73.84,136.77 74.28,136.52 74.72,136.36 75.16,136.85 75.6,136.75 76.04,135.7 76.48,135.68 76.92,136.23 77.36,136.3 77.8,134.35 78.24,134.76 78.68,136.08 79.12,136.21 79.56,136 80,135.2 80.44,135.94 80.88,136.15 81.32,135.98 81.76,136.39 82.2,135.35 82.64,135.5 83.08,135.07 83.52,134.81 83.96,135.03 84.4,134.3 84.84,135.1 85.28,134.96 85.72,134.91 86.16,134.71 86.6,135.07 87.04,135.15 87.48,135.16 87.92,134.44 88.36,135.36 88.8,134.46 89.24,134.29 89.68,134.02 90.12,134.48 90.56,133.78 91,133.45 91.44,132.63 91.87,134.09 92.31,134.72 92.75,134.94 93.19,134.91 93.63,133.21 94.07,134.54 94.51,134.79 94.95,134.45 95.39,133.44 95.83,133.27 96.27,133.91 96.71,133.97 97.15,133.45 97.59,132.8 98.03,132.51 98.47,132.91 98.91,132 99.35,132.75 99.79,132.62 100.23,131.36 100.67,132.96 101.11,132.86 101.55,132.64 101.99,131.93 102.43,132.49 102.87,132.22 103.31,131.99 103.75,132.89 104.19,132.55 104.63,132.57 105.07,132.17 105.51,132.86 105.95,132.26 106.39,132.68 106.83,132.81 107.27,133.01 107.71,133.33 108.15,133.38 108.59,132.69 109.03,133.2 109.47,132.26 109.91,132.43 110.35,131.03 110.78,131.56 111.22,131.57 111.66,130.27 112.1,129.83 112.54,131.79 112.98,131.37 113.42,130.69 113.86,130.3 114.3,131.62 114.74,130.97 115.18,131.26 115.62,130.63 116.06,130.86 116.5,129.77 116.94,130.34 117.38,130.83 117.82,130.74 118.26,130.5 118.7,129.74 119.14,129.71 119.58,129.44 120.02,130 120.46,129.35 120.9,128.91 121.34,129.57 121.78,128.48 122.22,127.85 122.66,128.87 123.1,129 123.54,129.01 123.98,128.87 124.42,127.61 124.86,128.33 125.3,128.01 125.74,128.7 126.18,128.75 126.62,128.36 127.06,129.26 127.5,129.16 127.94,129.46 128.38,129.54 128.82,128.8 129.26,128.88 129.7,129.73 130.13,128.86 130.57,129.23 131.01,128.73 131.45,128.44 131.89,128.26 132.33,127.73 132.77,128.13 133.21,127.32 133.65,127.79 134.09,127.41 134.53,128.05 134.97,127.79 135.41,128.66 135.85,128.62 136.29,129.1 136.73,127.91 137.17,128.1 137.61,126.63 138.05,127.93 138.49,127.27 138.93,127.09 139.37,127.21 139.81,127.35 140.25,127.2 140.69,125.52 141.13,126.95 141.57,126.51 142.01,126.41 142.45,125.96 142.89,125.44 143.33,126.36 143.77,125.47 144.21,125.78 144.65,126.08 145.09,126.43 145.53,126.1 145.97,126.83 146.41,127.57 146.85,126.64 147.29,126.84 147.73,127.29 148.17,127.5 148.61,127.71 149.05,126.96 149.48,125.99 149.92,125.76 150.36,126.16 150.8,126.1 151.24,125.12 151.68,124.2 152.12,124.46 152.56,125.11 153,123.8 153.44,124.66 153.88,124.49 154.32,123.01 154.76,123.78 155.2,124.36 155.64,124.35 156.08,123.43 156.52,123.82 156.96,123.65 157.4,124.09 157.84,123.7 158.28,124.26 158.72,124.21 159.16,123.3 159.6,123.56 160.04,123.65 160.48,123.76 160.92,123.85 161.36,122.73 161.8,121.68 162.24,122.28 162.68,123.59 163.12,123.38 163.56,122.89 164,123.49 164.44,123.93 164.88,123.68 165.32,122.55 165.76,122.48 166.2,123.42 166.64,123.02 167.08,122.3 167.52,122.55 167.96,122.55 168.39,121.96 168.83,121.51 169.27,121.05 169.71,121.35 170.15,121.67 170.59,121.36 171.03,121.7 171.47,121.68 171.91,121.77 172.35,120.68 172.79,118.19 173.23,119.58 173.67,121.65 174.11,121.33 174.55,121.66 174.99,121.09 175.43,121.82 175.87,121.73 176.31,121.41 176.75,121.22 177.19,121.47 177.63,121.35 178.07,120.06 178.51,119.78 178.95,119.86 179.39,120.3 179.83,119.38 180.27,119.68 180.71,119.96 181.15,119.25 181.59,120.01 182.03,119.37 182.47,120.24 182.91,120.35 183.35,120 183.79,120.43 184.23,120.29 184.67,119.78 185.11,120.18 185.55,120.02 185.99,119.18 186.43,120.04 186.87,118.53 187.31,118.43 187.74,118.81 188.18,118.5 188.62,118.44 189.06,118.73 189.5,118.05 189.94,118.6 190.38,117.71 190.82,118.31 191.26,117.78 191.7,118.11 192.14,118.56 192.58,118.04 193.02,118.29 193.46,118.18 193.9,117.4 194.34,117.64 194.78,117.86 195.22,116.72 195.66,116.91 196.1,114.78 196.54,113.57 196.98,114.38 197.42,116.81 197.86,116.82 198.3,116.71 198.74,116.58 199.18,116.57 199.62,116.35 200.06,117.16 200.5,117.65 200.94,117.18 201.38,116.28 201.82,116.31 202.26,116.51 202.7,115.83 203.14,115.88 203.58,116.34 204.02,115.83 204.46,115.28 204.9,115.18 205.34,113.9 205.78,113.21 206.22,114.29 206.66,114.96 207.09,114.42 207.53,115.25 207.97,114.92 208.41,114.74 208.85,115.2 209.29,115.28 209.73,114.85 210.17,115.28 210.61,115.05 211.05,115.28 211.49,114.08 211.93,114.64 212.37,115.07 212.81,114 213.25,113.83 213.69,113.59 214.13,114.31 214.57,114.61 215.01,114.05 215.45,115.18 215.89,114.99 216.33,115.49 216.77,115.5 217.21,114.94 217.65,115.21 218.09,114.48 218.53,114.64 218.97,114.22 219.41,113.38 219.85,113.38 220.29,112.83 220.73,113.07 221.17,112.32 221.61,112.66 222.05,112.32 222.49,111.73 222.93,112.15 223.37,111.78 223.81,111.51 224.25,111.7 224.69,111.43 225.13,110.83 225.57,111.67 226.01,111.02 226.44,110.85 226.88,110.35 227.32,110.95 227.76,110.28 228.2,110.76 228.64,111.06 229.08,110.73 229.52,110.55 229.96,110.68 230.4,110.14 230.84,110.64 231.28,110.5 231.72,110.08 232.16,109.91 232.6,109.53 233.04,109.58 233.48,109.19 233.92,108.4 234.36,109.63 234.8,108.32 235.24,108.16 235.68,107.9 236.12,108.19 236.56,106.4 237,104.53 237.44,106.37 237.88,108.45 238.32,108.43 238.76,108.39 239.2,108.5 239.64,107.91 240.08,108.29 240.52,107.79 240.96,108.18 241.4,108.34 241.84,107.18 242.28,106.95 242.72,107.13 243.16,106.94 243.6,107.53 244.04,105.79 244.48,106.79 244.92,105.78 245.35,107.46 245.79,107.4 246.23,106.67 246.67,107.18 247.11,107.1 247.55,106.5 247.99,106.14 248.43,106.84 248.87,106.49 249.31,107.03 249.75,105.89 250.19,106.46 250.63,106.07 251.07,106.08 251.51,106.44 251.95,106.75 252.39,105.41 252.83,103.07 253.27,103.72 253.71,105.06 254.15,105.02 254.59,104.26 255.03,105.31 255.47,103.87 255.91,104.53 256.35,104.05 256.79,103.98 257.23,104.49 257.67,103.52 258.11,103.12 258.55,103.94 258.99,102.24 259.43,102.31 259.87,102.76 260.31,102.59 260.75,102.19 261.19,102.21 261.63,100.9 262.07,101.75 262.51,101.02 262.95,101.63 263.39,100.87 263.83,101.27 264.27,101.44 264.7,101.54 265.14,101.19 265.58,101.9 266.02,101.06 266.46,101.48 266.9,101.52 267.34,101.22 267.78,101.34 268.22,100.53 268.66,101.01 269.1,101.17 269.54,100.78 269.98,100.75 270.42,99.21 270.86,98.13 271.3,99.09 271.74,99.43 272.18,98.87 272.62,98.99 273.06,98.91 273.5,98.58 273.94,98.1 274.38,97.3 274.82,97.47 275.26,97.43 275.7,96.94 276.14,97.48 276.58,97.31 277.02,97.81 277.46,96.21 277.9,96.08 278.34,96.12 278.78,97.03 279.22,96.66 279.66,95.76 280.1,95.41 280.54,96.12 280.98,96.01 281.42,96.54 281.86,96.2 282.3,97 282.74,96.94 283.18,96.26 283.62,96.49 284.05,96.17 284.49,95.33 284.93,95.08 285.37,94.92 285.81,94.16 286.25,93.44 286.69,93.75 287.13,94.11 287.57,94.43 288.01,93.64 288.45,93.14 288.89,92.03 289.33,93.02 289.77,92.72 290.21,93.2 290.65,92.92 291.09,92.21 291.53,92.02 291.97,92.34 292.41,91.66 292.85,89.22 293.29,88.42 293.73,89.58 294.17,91.16 294.61,91.09 295.05,91.03 295.49,90.49 295.93,90.07 296.37,90.18 296.81,90.49 297.25,90.89 297.69,91.27 298.13,90.7 298.57,90.13 299.01,90.3 299.45,89.61 299.89,88.45 300.33,88.74 300.77,87.9 301.21,87.63 301.65,87.55 302.09,87.71 302.53,87.11 302.96,86.43 303.4,86.93 303.84,86.51 304.28,87.82 304.72,86.12 305.16,86.97 305.6,86.38 306.04,87.26 306.48,86.68 306.92,85.91 307.36,86.38 307.8,86.36 308.24,86.65 308.68,86.42 309.12,84.11 309.56,85.39 310,85.08 310.44,85.32 310.88,84.04 311.32,84.39 311.76,84.22 312.2,83.24 312.64,83.48 313.08,82.86 313.52,82.66 313.96,82.89 314.4,81.11 314.84,82.36 315.28,82.16 315.72,81.71 316.16,82.06 316.6,82.48 317.04,80.87 317.48,82.15 317.92,82.22 318.36,81.77 318.8,81.42 319.24,82.09 319.68,81.72 320.12,80.59 320.56,80.35 321,80.87 321.44,79.68 321.88,80.02 322.31,79.39 322.75,79.32 323.19,78.4 323.63,79.39 324.07,78.9 324.51,79.64 324.95,79.59 325.39,78.96 325.83,79.05 326.27,78.71 326.71,78.37 327.15,79.23 327.59,78.8 328.03,78.51 328.47,77.77 328.91,77.27 329.35,77.65 329.79,77.23 330.23,76.94 330.67,76.81 331.11,75.53 331.55,74.7 331.99,74.95 332.43,75.43 332.87,74.86 333.31,74.28 333.75,74.95 334.19,74.5 334.63,74.65 335.07,74.68 335.51,74.83 335.95,73.09 336.39,74.32 336.83,73.76 337.27,73.59 337.71,73.7 338.15,73.09 338.59,73.23 339.03,72.89 339.47,72.84 339.91,71.77 340.35,71.04 340.79,71.44 341.23,70.95 341.66,70.93 342.1,71.33 342.54,70.44 342.98,70.55 343.42,69.85 343.86,70.38 344.3,70.43 344.74,67.65 345.18,66.8 345.62,67.47 346.06,68.8 346.5,69.34 346.94,69.22 347.38,68.74 347.82,69.21 348.26,67.89 348.7,66.82 349.14,67.37 349.58,67.75 350.02,66.04 350.46,66.39 350.9,66.19 350.9,79.31 350.46,79.13 350.02,79.66 349.58,79.11 349.14,79.98 348.7,79.84 348.26,80.11 347.82,80.76 347.38,82.13 346.94,81.7 346.5,80.94 346.06,81.86 345.62,82.03 345.18,82.21 344.74,82.76 344.3,83.38 343.86,82.11 343.42,82.55 342.98,82.97 342.54,83.12 342.1,83.05 341.66,83.2 341.23,83.65 340.79,83.43 340.35,83.64 339.91,83.72 339.47,83.68 339.03,85.43 338.59,84.99 338.15,85.36 337.71,85.48 337.27,85.15 336.83,85.91 336.39,86.1 335.95,87.26 335.51,86.22 335.07,87.37 334.63,86.92 334.19,88.69 333.75,90.01 333.31,89.86 332.87,87.44 332.43,87.19 331.99,87.39 331.55,87.38 331.11,88.54 330.67,87.79 330.23,87.93 329.79,88.18 329.35,89.41 328.91,87.97 328.47,88.65 328.03,90.15 327.59,89.58 327.15,90.36 326.71,89.75 326.27,90.08 325.83,90.55 325.39,91.51 324.95,91.63 324.51,90.37 324.07,92.6 323.63,91.35 323.19,91.07 322.75,91.66 322.31,91.46 321.88,93.73 321.44,93.79 321,94.87 320.56,94.79 320.12,93.52 319.68,93.14 319.24,93.12 318.8,93.88 318.36,93.48 317.92,94.39 317.48,95.24 317.04,94.33 316.6,93.86 316.16,94.17 315.72,94.47 315.28,94.93 314.84,95.74 314.4,96.13 313.96,95.56 313.52,96.83 313.08,95.75 312.64,95.25 312.2,95.94 311.76,96.26 311.32,97.31 310.88,97.73 310.44,97.59 310,96.72 309.56,96.88 309.12,96.54 308.68,97.4 308.24,96.93 307.8,97.63 307.36,97.52 306.92,98.72 306.48,98.03 306.04,98.62 305.6,97.68 305.16,98.16 304.72,98.61 304.28,98.23 303.84,99.47 303.4,98.78 302.96,99.35 302.53,99.12 302.09,100.7 301.65,99.91 301.21,100.57 300.77,101.06 300.33,101.58 299.89,100.61 299.45,100.84 299.01,101.06 298.57,101.2 298.13,101.11 297.69,100.87 297.25,102.76 296.81,102.39 296.37,102.54 295.93,102.72 295.49,101.71 295.05,102.08 294.61,103.07 294.17,102.67 293.73,102.78 293.29,103.38 292.85,104.03 292.41,103.29 291.97,103.84 291.53,103.76 291.09,103.86 290.65,104.52 290.21,104.56 289.77,105.5 289.33,106.72 288.89,106.89 288.45,105.75 288.01,105.46 287.57,105.8 287.13,105.22 286.69,105.6 286.25,105.31 285.81,106.63 285.37,105.87 284.93,106.32 284.49,105.57 284.05,105.33 283.62,105.52 283.18,106.35 282.74,106.26 282.3,106.3 281.86,106.17 281.42,106.72 280.98,106.9 280.54,107.6 280.1,107.1 279.66,107.08 279.22,107.39 278.78,107.98 278.34,108.55 277.9,107.77 277.46,108.75 277.02,108.84 276.58,108.44 276.14,108.99 275.7,109.37 275.26,109.3 274.82,109.35 274.38,109.9 273.94,110.24 273.5,110.62 273.06,110.39 272.62,110.1 272.18,110.25 271.74,111.13 271.3,110.51 270.86,110.04 270.42,109.77 269.98,110.1 269.54,110.47 269.1,110.8 268.66,110.54 268.22,110.6 267.78,110.65 267.34,111.13 266.9,111.85 266.46,112.51 266.02,112.2 265.58,112.58 265.14,112.72 264.7,112.18 264.27,112.84 263.83,113.55 263.39,112.96 262.95,113.5 262.51,113.41 262.07,113.92 261.63,113.75 261.19,113.48 260.75,113.66 260.31,114.16 259.87,113.86 259.43,114.9 258.99,114.37 258.55,114.59 258.11,114.57 257.67,114.83 257.23,114.33 256.79,114.63 256.35,115 255.91,114.61 255.47,114.7 255.03,114.47 254.59,115.1 254.15,114.6 253.71,114.18 253.27,114.67 252.83,114.21 252.39,114.88 251.95,115.22 251.51,115.62 251.07,114.11 250.63,114.46 250.19,114.6 249.75,115.03 249.31,115.19 248.87,115.8 248.43,116.58 247.99,115.93 247.55,116.59 247.11,116.88 246.67,116.99 246.23,117.74 245.79,117.52 245.35,117.95 244.92,117.57 244.48,118.85 244.04,119.18 243.6,118.7 243.16,118.23 242.72,118.71 242.28,119.26 241.84,118.65 241.4,117.94 240.96,119.19 240.52,118.63 240.08,118.9 239.64,119.08 239.2,118.98 238.76,119.15 238.32,119.04 237.88,119.52 237.44,119.82 237,120.88 236.56,120.41 236.12,121.04 235.68,120.41 235.24,119.95 234.8,121.26 234.36,120.72 233.92,121.3 233.48,120.51 233.04,120.31 232.6,120.23 232.16,120.43 231.72,120.51 231.28,120.01 230.84,120.73 230.4,120.82 229.96,121.33 229.52,121.94 229.08,121.65 228.64,122.89 228.2,122.03 227.76,122.47 227.32,122.4 226.88,121.79 226.44,122.15 226.01,123.23 225.57,123.05 225.13,122.38 224.69,121.9 224.25,122.07 223.81,121.96 223.37,122.13 222.93,124.22 222.49,126.51 222.05,126.88 221.61,125.53 221.17,126.41 220.73,124.03 220.29,123.92 219.85,124.73 219.41,125.27 218.97,124.62 218.53,125.02 218.09,125.06 217.65,125.6 217.21,125.33 216.77,125.39 216.33,125.81 215.89,125.8 215.45,125.27 215.01,125.08 214.57,126.12 214.13,125.6 213.69,125.11 213.25,126.52 212.81,127.15 212.37,126.37 211.93,125.58 211.49,126.07 211.05,125.32 210.61,125.2 210.17,124.89 209.73,125.54 209.29,125.55 208.85,125.26 208.41,126.61 207.97,127.33 207.53,129.35 207.09,127 206.66,125.72 206.22,126.56 205.78,127.52 205.34,126.84 204.9,126.19 204.46,126.35 204.02,126.37 203.58,126.2 203.14,126.5 202.7,126.96 202.26,127.55 201.82,127.21 201.38,127.44 200.94,127.7 200.5,127.29 200.06,127.65 199.62,128.05 199.18,129.47 198.74,131.52 198.3,131.31 197.86,130.9 197.42,130.56 196.98,128.27 196.54,128.48 196.1,128.22 195.66,129.31 195.22,128.76 194.78,128.65 194.34,129.63 193.9,129.18 193.46,129.73 193.02,130.46 192.58,130.28 192.14,129.57 191.7,129.29 191.26,130.42 190.82,129.88 190.38,129.82 189.94,130.58 189.5,129.91 189.06,130.02 188.62,130.72 188.18,130.34 187.74,129.85 187.31,129.55 186.87,130.07 186.43,131.11 185.99,131.04 185.55,130.85 185.11,131.3 184.67,131.78 184.23,131.65 183.79,131.99 183.35,131.42 182.91,131.32 182.47,132.69 182.03,132.03 181.59,131.17 181.15,130.67 180.71,131.32 180.27,130.86 179.83,130.62 179.39,131.26 178.95,131.99 178.51,133.43 178.07,131.63 177.63,132.39 177.19,133.6 176.75,132.19 176.31,132.91 175.87,132.05 175.43,131.88 174.99,132.59 174.55,133.19 174.11,132.71 173.67,133.74 173.23,133.04 172.79,133.42 172.35,132.65 171.91,133.09 171.47,133.68 171.03,133.4 170.59,134.32 170.15,133.42 169.71,133.2 169.27,133.84 168.83,133.76 168.39,133.4 167.96,134.65 167.52,134.54 167.08,133.85 166.64,133.47 166.2,132.9 165.76,133.78 165.32,133.6 164.88,134.16 164.44,134.68 164,134.43 163.56,134.62 163.12,135.28 162.68,135.07 162.24,135.3 161.8,135.77 161.36,135.78 160.92,135.11 160.48,135.23 160.04,135.32 159.6,135.15 159.16,135.83 158.72,135.4 158.28,135.71 157.84,135.73 157.4,135.02 156.96,135.77 156.52,135.61 156.08,135.52 155.64,135.85 155.2,136.27 154.76,135.85 154.32,135.68 153.88,137.65 153.44,138.98 153,139.71 152.56,137.72 152.12,136.7 151.68,136.76 151.24,138.41 150.8,137.07 150.36,137.9 149.92,138.09 149.48,137.39 149.05,139.42 148.61,140.7 148.17,139.15 147.73,136.69 147.29,136.87 146.85,137.25 146.41,137.03 145.97,137.03 145.53,136.74 145.09,138.24 144.65,137.65 144.21,137.18 143.77,137.76 143.33,141.28 142.89,142.1 142.45,140.54 142.01,138.3 141.57,138.59 141.13,138.58 140.69,139.31 140.25,139.13 139.81,138.76 139.37,138.52 138.93,138.93 138.49,138.68 138.05,139.29 137.61,139.18 137.17,139.75 136.73,139.41 136.29,140.3 135.85,140.62 135.41,140.58 134.97,139.79 134.53,140.19 134.09,140.24 133.65,139.69 133.21,139.91 132.77,139.71 132.33,139.41 131.89,139.54 131.45,141.61 131.01,142.43 130.57,141.33 130.13,142.03 129.7,143.18 129.26,142 128.82,140.13 128.38,140.87 127.94,141.07 127.5,141 127.06,140.64 126.62,141.11 126.18,141.3 125.74,141.65 125.3,141.49 124.86,141.78 124.42,140.56 123.98,142.49 123.54,143.54 123.1,142.89 122.66,142.13 122.22,142.25 121.78,141.74 121.34,142.24 120.9,142.87 120.46,142.54 120.02,142.59 119.58,142.69 119.14,142.79 118.7,142.86 118.26,142.29 117.82,142.24 117.38,142.3 116.94,142.3 116.5,142.82 116.06,143.12 115.62,142.54 115.18,143.07 114.74,142.28 114.3,144.17 113.86,144.96 113.42,145.23 112.98,143.69 112.54,143.97 112.1,143.13 111.66,143.29 111.22,144.44 110.78,145.8 110.35,145.45 109.91,143.95 109.47,143.88 109.03,143.7 108.59,144.31 108.15,144.08 107.71,143.56 107.27,143.88 106.83,143.75 106.39,144.18 105.95,144.34 105.51,144.12 105.07,143.05 104.63,143.34 104.19,144.91 103.75,145.11 103.31,143.27 102.87,143.92 102.43,144.39 101.99,143.47 101.55,143.56 101.11,144.2 100.67,144.47 100.23,144.55 99.79,145.12 99.35,144.57 98.91,144.01 98.47,144.84 98.03,145.13 97.59,144.53 97.15,145.27 96.71,145.15 96.27,146.75 95.83,145.66 95.39,144.58 94.95,145.82 94.51,144.62 94.07,145.52 93.63,144.74 93.19,144.6 92.75,146.2 92.31,145.21 91.87,144.98 91.44,145.09 91,145.18 90.56,145.14 90.12,145.31 89.68,146.19 89.24,146.28 88.8,146.53 88.36,146.41 87.92,146.64 87.48,146.54 87.04,147.67 86.6,147.33 86.16,147.16 85.72,147.18 85.28,147.07 84.84,148.28 84.4,148.67 83.96,148.41 83.52,147.6 83.08,147.27 82.64,147.24 82.2,147.4 81.76,146.71 81.32,147.01 80.88,147.15 80.44,146.96 80,147.13 79.56,147.56 79.12,149 78.68,147.34 78.24,148.17 77.8,148.75 77.36,148.8 76.92,147.97 76.48,148.67 76.04,148.9 75.6,149.37 75.16,148.1 74.72,148 74.28,148.77 73.84,148.6 73.4,149.3 72.96,150.11 72.52,148.79 72.09,147.95 71.65,149.24 71.21,148.14 70.77,149.99 70.33,150.81 69.89,149.89 69.45,148.25 69.01,149.69 68.57,149.59 68.13,150.67 67.69,151.22 67.25,151.08 66.81,150.73 66.37,150.35 65.93,150.2 65.49,150.5 65.05,150.28 64.61,149.8 64.17,149.99 63.73,149.38 63.29,149.28 62.85,149.66 62.41,149.78 61.97,149.42 61.53,149.93 61.09,149.78 60.65,150.38 60.21,150.54 59.77,149.9 59.33,150.52 58.89,150.79 58.45,150.75 58.01,150.37 57.57,150.73 57.13,153.25 56.69,153.82 56.25,152.98 55.81,150.81 55.37,150.27 54.93,150.4 54.49,150.17 54.05,150.12 53.61,150.79 53.17,150.48 52.74,150.47 52.3,150.88 51.86,150.9 51.42,151.57 50.98,151.06 50.54,152.09 50.1,152.42 49.66,152.24 49.22,151.96 48.78,151.39 48.34,151.8 47.9,151.78 47.46,152.29 47.02,151.84 46.58,152.41 46.14,152.68 45.7,152.22 45.26,151.92 44.82,152.11 44.38,152.41 43.94,153.64 43.5,152.35" fill="#259649" fill-opacity="0.27"/>
<path d="M43.5 204.19 L44.78 203.47 L46.06 202.76 L47.34 202.05 L48.62 201.33 L49.9 200.62 L51.19 199.91 L52.47 199.2 L53.75 198.49 L55.03 197.78 L56.31 197.07 L57.59 196.37 L58.87 195.66 L60.15 194.95 L61.43 194.25 L62.71 193.54 L63.99 192.84 L65.27 192.13 L66.55 191.43 L67.84 190.73 L69.12 190.03 L70.4 189.32 L71.68 188.62 L72.96 187.92 L74.24 187.23 L75.52 186.53 L76.8 185.83 L78.08 185.13 L79.36 184.44 L80.64 183.74 L81.92 183.05 L83.21 182.35 L84.49 181.66 L85.77 180.97 L87.05 180.27 L88.33 179.58 L89.61 178.89 L90.89 178.2 L92.17 177.51 L93.45 176.82 L94.73 176.13 L96.01 175.45 L97.29 174.76 L98.58 174.07 L99.86 173.39 L101.14 172.71 L102.42 172.02 L103.7 171.34 L104.98 170.66 L106.26 169.98 L107.54 169.29 L108.82 168.61 L110.1 167.93 L111.38 167.26 L112.66 166.58 L113.95 165.9 L115.23 165.22 L116.51 164.55 L117.79 163.87 L119.07 163.2 L120.35 162.52 L121.63 161.85 L122.91 161.18 L124.19 160.5 L125.47 159.83 L126.75 159.16 L128.03 158.49 L129.32 157.82 L130.6 157.15 L131.88 156.48 L133.16 155.81 L134.44 155.14 L135.72 154.48 L137 153.81 L138.28 153.14 L139.56 152.48 L140.84 151.81 L142.12 151.14 L143.41 150.48 L144.69 149.82 L145.97 149.15 L147.25 148.49 L148.53 147.83 L149.81 147.18 L151.09 146.53 L152.37 145.89 L153.65 145.25 L154.93 144.61 L156.21 143.98 L157.49 143.35 L158.77 142.72 L160.06 142.09 L161.34 141.46 L162.62 140.84 L163.9 140.21 L165.18 139.59 L166.46 138.96 L167.74 138.34 L169.02 137.71 L170.3 137.08 L171.58 136.46 L172.86 135.82 L174.14 135.19 L175.43 134.56 L176.71 133.92 L177.99 133.28 L179.27 132.63 L180.55 131.98 L181.83 131.33 L183.11 130.67 L184.39 130.01 L185.67 129.34 L186.95 128.67 L188.23 127.99 L189.51 127.3 L190.8 126.61 L192.08 125.91 L193.36 125.2 L194.64 124.48 L195.92 123.76 L197.2 123.03 L198.48 122.28 L199.76 121.53 L201.04 120.76 L202.32 119.99 L203.6 119.2 L204.88 118.4 L206.17 117.6 L207.45 116.79 L208.73 115.97 L210.01 115.14 L211.29 114.3 L212.57 113.46 L213.85 112.61 L215.13 111.76 L216.41 110.9 L217.69 110.03 L218.97 109.16 L220.25 108.29 L221.54 107.42 L222.82 106.54 L224.1 105.66 L225.38 104.78 L226.66 103.9 L227.94 103.01 L229.22 102.13 L230.5 101.25 L231.78 100.37 L233.06 99.48 L234.34 98.61 L235.62 97.73 L236.91 96.85 L238.19 95.98 L239.47 95.12 L240.75 94.25 L242.03 93.39 L243.31 92.54 L244.59 91.69 L245.87 90.85 L247.15 90.02 L248.43 89.19 L249.71 88.37 L251 87.55 L252.28 86.74 L253.56 85.94 L254.84 85.14 L256.12 84.34 L257.4 83.55 L258.68 82.76 L259.96 81.98 L261.24 81.19 L262.52 80.41 L263.8 79.64 L265.08 78.86 L266.37 78.08 L267.65 77.31 L268.93 76.53 L270.21 75.76 L271.49 74.98 L272.77 74.21 L274.05 73.43 L275.33 72.65 L276.61 71.87 L277.89 71.09 L279.17 70.31 L280.45 69.52 L281.74 68.73 L283.02 67.93 L284.3 67.13 L285.58 66.33 L286.86 65.52 L288.14 64.7 L289.42 63.88 L290.7 63.06 L291.98 62.22 L293.26 61.38 L294.54 60.54 L295.82 59.68 L297.1 58.82 L298.39 57.95 L299.67 57.07 L300.95 56.18 L302.23 55.29 L303.51 54.39 L304.79 53.48 L306.07 52.58 L307.35 51.66 L308.63 50.74 L309.91 49.82 L311.19 48.89 L312.47 47.95 L313.76 47.01 L315.04 46.06 L316.32 45.11 L317.6 44.16 L318.88 43.2 L320.16 42.23 L321.44 41.26 L322.72 40.29 L324 39.31 L325.28 38.32 L326.56 37.33 L327.84 36.34 L329.13 35.34 L330.41 34.33 L331.69 33.33 L332.97 32.31 L334.25 31.29 L335.53 30.27 L336.81 29.25 L338.09 28.21 L339.37 27.18 L340.65 26.14 L341.93 25.09 L343.21 24.04 L344.5 22.99 L345.78 21.93 L347.06 20.87 L348.34 19.81 L349.62 18.74 L350.9 17.66" stroke="#3179bf" stroke-width="2.15" fill="none" stroke-linecap="square" stroke-linejoin="round"/>
<path d="M43.5 67.13 L44.78 67.78 L46.06 68.43 L47.34 69.07 L48.62 69.71 L49.9 70.34 L51.19 70.97 L52.47 71.6 L53.75 72.23 L55.03 72.85 L56.31 73.47 L57.59 74.08 L58.87 74.69 L60.15 75.29 L61.43 75.9 L62.71 76.5 L63.99 77.09 L65.27 77.68 L66.55 78.27 L67.84 78.85 L69.12 79.43 L70.4 80 L71.68 80.57 L72.96 81.13 L74.24 81.7 L75.52 82.25 L76.8 82.8 L78.08 83.35 L79.36 83.9 L80.64 84.43 L81.92 84.97 L83.21 85.5 L84.49 86.02 L85.77 86.54 L87.05 87.06 L88.33 87.57 L89.61 88.07 L90.89 88.57 L92.17 89.07 L93.45 89.56 L94.73 90.05 L96.01 90.53 L97.29 91 L98.58 91.47 L99.86 91.93 L101.14 92.39 L102.42 92.84 L103.7 93.29 L104.98 93.73 L106.26 94.17 L107.54 94.6 L108.82 95.03 L110.1 95.46 L111.38 95.88 L112.66 96.3 L113.95 96.71 L115.23 97.13 L116.51 97.54 L117.79 97.94 L119.07 98.35 L120.35 98.75 L121.63 99.15 L122.91 99.55 L124.19 99.95 L125.47 100.35 L126.75 100.75 L128.03 101.14 L129.32 101.54 L130.6 101.94 L131.88 102.33 L133.16 102.73 L134.44 103.12 L135.72 103.52 L137 103.92 L138.28 104.32 L139.56 104.72 L140.84 105.12 L142.12 105.52 L143.41 105.93 L144.69 106.34 L145.97 106.75 L147.25 107.16 L148.53 107.58 L149.81 108.01 L151.09 108.43 L152.37 108.87 L153.65 109.3 L154.93 109.74 L156.21 110.18 L157.49 110.62 L158.77 111.06 L160.06 111.5 L161.34 111.95 L162.62 112.39 L163.9 112.84 L165.18 113.28 L166.46 113.72 L167.74 114.17 L169.02 114.6 L170.3 115.04 L171.58 115.48 L172.86 115.91 L174.14 116.34 L175.43 116.76 L176.71 117.19 L177.99 117.6 L179.27 118.01 L180.55 118.42 L181.83 118.82 L183.11 119.21 L184.39 119.6 L185.67 119.98 L186.95 120.35 L188.23 120.72 L189.51 121.08 L190.8 121.43 L192.08 121.76 L193.36 122.1 L194.64 122.42 L195.92 122.73 L197.2 123.03 L198.48 123.32 L199.76 123.6 L201.04 123.89 L202.32 124.16 L203.6 124.44 L204.88 124.71 L206.17 124.97 L207.45 125.23 L208.73 125.49 L210.01 125.74 L211.29 125.99 L212.57 126.24 L213.85 126.48 L215.13 126.72 L216.41 126.96 L217.69 127.19 L218.97 127.42 L220.25 127.65 L221.54 127.88 L222.82 128.1 L224.1 128.32 L225.38 128.54 L226.66 128.76 L227.94 128.97 L229.22 129.18 L230.5 129.39 L231.78 129.6 L233.06 129.81 L234.34 130.02 L235.62 130.22 L236.91 130.43 L238.19 130.63 L239.47 130.83 L240.75 131.03 L242.03 131.23 L243.31 131.43 L244.59 131.63 L245.87 131.83 L247.15 132.03 L248.43 132.23 L249.71 132.43 L251 132.64 L252.28 132.84 L253.56 133.04 L254.84 133.25 L256.12 133.45 L257.4 133.66 L258.68 133.86 L259.96 134.07 L261.24 134.27 L262.52 134.48 L263.8 134.68 L265.08 134.88 L266.37 135.09 L267.65 135.29 L268.93 135.49 L270.21 135.68 L271.49 135.88 L272.77 136.07 L274.05 136.26 L275.33 136.45 L276.61 136.64 L277.89 136.82 L279.17 137 L280.45 137.18 L281.74 137.35 L283.02 137.52 L284.3 137.69 L285.58 137.85 L286.86 138 L288.14 138.16 L289.42 138.31 L290.7 138.45 L291.98 138.59 L293.26 138.72 L294.54 138.85 L295.82 138.97 L297.1 139.09 L298.39 139.2 L299.67 139.3 L300.95 139.4 L302.23 139.51 L303.51 139.61 L304.79 139.71 L306.07 139.82 L307.35 139.92 L308.63 140.02 L309.91 140.12 L311.19 140.21 L312.47 140.3 L313.76 140.39 L315.04 140.47 L316.32 140.54 L317.6 140.6 L318.88 140.66 L320.16 140.71 L321.44 140.75 L322.72 140.78 L324 140.79 L325.28 140.8 L326.56 140.8 L327.84 140.79 L329.13 140.79 L330.41 140.78 L331.69 140.76 L332.97 140.74 L334.25 140.72 L335.53 140.69 L336.81 140.66 L338.09 140.63 L339.37 140.58 L340.65 140.54 L341.93 140.49 L343.21 140.43 L344.5 140.36 L345.78 140.29 L347.06 140.22 L348.34 140.13 L349.62 140.04 L350.9 139.94" stroke="#f07823" stroke-width="2.15" fill="none" stroke-linecap="square" stroke-linejoin="round"/>
<path d="M43.5 147.44 L44.78 147.25 L46.06 147.07 L47.34 146.89 L48.62 146.7 L49.9 146.52 L51.19 146.34 L52.47 146.15 L53.75 145.97 L55.03 145.79 L56.31 145.6 L57.59 145.42 L58.87 145.23 L60.15 145.05 L61.43 144.86 L62.71 144.68 L63.99 144.49 L65.27 144.31 L66.55 144.12 L67.84 143.94 L69.12 143.75 L70.4 143.57 L71.68 143.38 L72.96 143.2 L74.24 143.01 L75.52 142.83 L76.8 142.64 L78.08 142.46 L79.36 142.27 L80.64 142.08 L81.92 141.9 L83.21 141.71 L84.49 141.52 L85.77 141.34 L87.05 141.15 L88.33 140.96 L89.61 140.78 L90.89 140.59 L92.17 140.4 L93.45 140.22 L94.73 140.03 L96.01 139.84 L97.29 139.66 L98.58 139.47 L99.86 139.28 L101.14 139.1 L102.42 138.92 L103.7 138.73 L104.98 138.55 L106.26 138.37 L107.54 138.18 L108.82 138 L110.1 137.82 L111.38 137.64 L112.66 137.45 L113.95 137.27 L115.23 137.09 L116.51 136.9 L117.79 136.72 L119.07 136.54 L120.35 136.35 L121.63 136.17 L122.91 135.98 L124.19 135.79 L125.47 135.61 L126.75 135.42 L128.03 135.23 L129.32 135.04 L130.6 134.85 L131.88 134.66 L133.16 134.46 L134.44 134.27 L135.72 134.07 L137 133.87 L138.28 133.68 L139.56 133.47 L140.84 133.27 L142.12 133.07 L143.41 132.86 L144.69 132.66 L145.97 132.45 L147.25 132.24 L148.53 132.02 L149.81 131.81 L151.09 131.59 L152.37 131.38 L153.65 131.16 L154.93 130.94 L156.21 130.71 L157.49 130.49 L158.77 130.26 L160.06 130.04 L161.34 129.81 L162.62 129.58 L163.9 129.35 L165.18 129.12 L166.46 128.88 L167.74 128.65 L169.02 128.41 L170.3 128.18 L171.58 127.94 L172.86 127.7 L174.14 127.46 L175.43 127.22 L176.71 126.98 L177.99 126.74 L179.27 126.49 L180.55 126.25 L181.83 126 L183.11 125.76 L184.39 125.51 L185.67 125.27 L186.95 125.02 L188.23 124.77 L189.51 124.52 L190.8 124.27 L192.08 124.03 L193.36 123.78 L194.64 123.53 L195.92 123.28 L197.2 123.03 L198.48 122.77 L199.76 122.53 L201.04 122.28 L202.32 122.03 L203.6 121.78 L204.88 121.54 L206.17 121.29 L207.45 121.04 L208.73 120.79 L210.01 120.55 L211.29 120.3 L212.57 120.05 L213.85 119.8 L215.13 119.55 L216.41 119.3 L217.69 119.05 L218.97 118.8 L220.25 118.55 L221.54 118.29 L222.82 118.03 L224.1 117.77 L225.38 117.51 L226.66 117.25 L227.94 116.98 L229.22 116.72 L230.5 116.45 L231.78 116.17 L233.06 115.9 L234.34 115.62 L235.62 115.34 L236.91 115.05 L238.19 114.76 L239.47 114.47 L240.75 114.18 L242.03 113.88 L243.31 113.57 L244.59 113.27 L245.87 112.95 L247.15 112.64 L248.43 112.32 L249.71 111.99 L251 111.66 L252.28 111.33 L253.56 110.99 L254.84 110.64 L256.12 110.29 L257.4 109.94 L258.68 109.58 L259.96 109.22 L261.24 108.85 L262.52 108.48 L263.8 108.11 L265.08 107.73 L266.37 107.34 L267.65 106.95 L268.93 106.56 L270.21 106.17 L271.49 105.77 L272.77 105.36 L274.05 104.95 L275.33 104.54 L276.61 104.13 L277.89 103.71 L279.17 103.28 L280.45 102.86 L281.74 102.42 L283.02 101.99 L284.3 101.55 L285.58 101.11 L286.86 100.67 L288.14 100.22 L289.42 99.77 L290.7 99.31 L291.98 98.85 L293.26 98.39 L294.54 97.93 L295.82 97.46 L297.1 96.99 L298.39 96.52 L299.67 96.04 L300.95 95.56 L302.23 95.08 L303.51 94.58 L304.79 94.09 L306.07 93.58 L307.35 93.07 L308.63 92.56 L309.91 92.04 L311.19 91.52 L312.47 90.99 L313.76 90.45 L315.04 89.91 L316.32 89.37 L317.6 88.81 L318.88 88.26 L320.16 87.7 L321.44 87.13 L322.72 86.56 L324 85.99 L325.28 85.41 L326.56 84.82 L327.84 84.24 L329.13 83.64 L330.41 83.04 L331.69 82.44 L332.97 81.84 L334.25 81.22 L335.53 80.61 L336.81 79.99 L338.09 79.37 L339.37 78.74 L340.65 78.11 L341.93 77.47 L343.21 76.83 L344.5 76.19 L345.78 75.54 L347.06 74.89 L348.34 74.23 L349.62 73.58 L350.9 72.91" stroke="#259649" stroke-width="2.15" fill="none" stroke-linecap="square" stroke-linejoin="round"/>
<path d="M43.8 15.95V230.1 M350.9 15.95V230.1 M43.8 15.95H350.9 M43.8 230.2H350.9" fill="none" stroke="#333333" stroke-width="1.05" stroke-linecap="square"/>
<path d="M43.5 230.1v3.4M94.73 230.1v3.4M145.97 230.1v3.4M197.2 230.1v3.4M248.43 230.1v3.4M299.67 230.1v3.4M350.9 230.1v3.4M43.5 208.69h-3.4M43.5 165.85h-3.4M43.5 123.03h-3.4M43.5 80.2h-3.4M43.5 37.37h-3.4" stroke="#333333" stroke-width="1" fill="none"/>
<text x="43.5" y="245.9" font-size="11.2" text-anchor="middle" fill="#262626" textLength="22.37" lengthAdjust="spacingAndGlyphs">−40</text>
<text x="94.73" y="245.9" font-size="11.2" text-anchor="middle" fill="#262626" textLength="22.37" lengthAdjust="spacingAndGlyphs">−20</text>
<text x="145.97" y="245.9" font-size="11.2" text-anchor="middle" fill="#262626" textLength="6.74" lengthAdjust="spacingAndGlyphs">0</text>
<text x="197.2" y="245.9" font-size="11.2" text-anchor="middle" fill="#262626" textLength="13.49" lengthAdjust="spacingAndGlyphs">20</text>
<text x="248.43" y="245.9" font-size="11.2" text-anchor="middle" fill="#262626" textLength="13.49" lengthAdjust="spacingAndGlyphs">40</text>
<text x="299.67" y="245.9" font-size="11.2" text-anchor="middle" fill="#262626" textLength="13.49" lengthAdjust="spacingAndGlyphs">60</text>
<text x="350.9" y="245.9" font-size="11.2" text-anchor="middle" fill="#262626" textLength="13.49" lengthAdjust="spacingAndGlyphs">80</text>
<text x="36.9" y="213.19" font-size="11.2" text-anchor="end" fill="#262626" textLength="22.37" lengthAdjust="spacingAndGlyphs">−20</text>
<text x="36.9" y="170.35" font-size="11.2" text-anchor="end" fill="#262626" textLength="22.37" lengthAdjust="spacingAndGlyphs">−10</text>
<text x="36.9" y="127.53" font-size="11.2" text-anchor="end" fill="#262626" textLength="6.74" lengthAdjust="spacingAndGlyphs">0</text>
<text x="36.9" y="84.7" font-size="11.2" text-anchor="end" fill="#262626" textLength="13.49" lengthAdjust="spacingAndGlyphs">10</text>
<text x="36.9" y="41.87" font-size="11.2" text-anchor="end" fill="#262626" textLength="13.49" lengthAdjust="spacingAndGlyphs">20</text>
<text x="197.2" y="10" font-size="13.3" text-anchor="middle" fill="#262626" textLength="143.61" lengthAdjust="spacingAndGlyphs">Without Compensation</text>
<text x="197.2" y="259.8" font-size="11.05" text-anchor="middle" fill="#262626" textLength="90.19" lengthAdjust="spacingAndGlyphs">Temperature (°C)</text>
<path d="M371.4 230.1V15.95M422.63 230.1V15.95M473.87 230.1V15.95M525.1 230.1V15.95M576.33 230.1V15.95M627.57 230.1V15.95M678.8 230.1V15.95" stroke="#c2c2c2" stroke-width="0.8" stroke-dasharray="2.2 0.8" stroke-dashoffset="-1.0" fill="none"/>
<path d="M371.4 208.69H678.8M371.4 165.85H678.8M371.4 123.03H678.8M371.4 80.2H678.8M371.4 37.37H678.8" stroke="#adadad" stroke-width="0.8" stroke-dasharray="2.2 0.8" stroke-dashoffset="-1.2" fill="none"/>
<polygon points="371.4,129.23 371.84,127.63 372.28,128.73 372.72,129.13 373.16,129.1 373.6,128.71 374.04,129.54 374.48,129.62 374.92,129.1 375.36,129.39 375.8,129.26 376.24,128.07 376.68,129.52 377.12,129.13 377.56,128.88 378,128.04 378.44,128.64 378.88,127.89 379.32,128.23 379.76,128.79 380.2,128.19 380.64,128.86 381.07,128.79 381.51,128.87 381.95,128.81 382.39,128.88 382.83,128.19 383.27,128.49 383.71,127.74 384.15,127.08 384.59,127.65 385.03,127.64 385.47,127.51 385.91,127.67 386.35,127.23 386.79,127.59 387.23,127.13 387.67,127.31 388.11,127.71 388.55,127.01 388.99,127.08 389.43,128.04 389.87,128.16 390.31,128.48 390.75,128.14 391.19,128.17 391.63,127.59 392.07,128.13 392.51,125.51 392.95,124.35 393.39,125.8 393.83,128.25 394.27,127.91 394.71,127.11 395.15,127.03 395.59,127.59 396.03,126.68 396.47,127.54 396.91,127.44 397.35,127.35 397.79,125.67 398.23,125.26 398.67,125.84 399.11,125.4 399.55,126.31 399.99,123 400.42,123.54 400.86,125.06 401.3,126.3 401.74,126.04 402.18,126.79 402.62,126.34 403.06,126.05 403.5,126.63 403.94,125.01 404.38,123.65 404.82,124.74 405.26,127.28 405.7,127.03 406.14,127.81 406.58,127.93 407.02,127.9 407.46,127.85 407.9,127.98 408.34,128.13 408.78,128.02 409.22,128.43 409.66,128.28 410.1,127.26 410.54,128.27 410.98,127.21 411.42,127.72 411.86,127.6 412.3,127.85 412.74,127.91 413.18,127.42 413.62,127.67 414.06,127.79 414.5,127.68 414.94,127.79 415.38,128.02 415.82,127.58 416.26,128.1 416.7,126.81 417.14,126.62 417.58,126.86 418.02,127.42 418.46,127.07 418.9,126.61 419.34,126.79 419.77,126.9 420.21,127.34 420.65,126.91 421.09,126.93 421.53,127.41 421.97,127.7 422.41,126.87 422.85,126.59 423.29,127.52 423.73,126.72 424.17,126.97 424.61,126.04 425.05,124.21 425.49,125 425.93,127.13 426.37,125.8 426.81,126.78 427.25,126.53 427.69,126.51 428.13,126.36 428.57,126.36 429.01,125.6 429.45,125.42 429.89,126.03 430.33,124.97 430.77,124.32 431.21,123.83 431.65,127.34 432.09,127.15 432.53,126.68 432.97,126.11 433.41,126.99 433.85,126.41 434.29,126.59 434.73,126.09 435.17,125.61 435.61,124.11 436.05,124.21 436.49,125.94 436.93,125.98 437.37,125.98 437.81,126.33 438.25,126.94 438.68,126.84 439.12,127.03 439.56,126.37 440,126.25 440.44,126.97 440.88,126.97 441.32,126.83 441.76,126.33 442.2,126.39 442.64,126.16 443.08,125.48 443.52,126.14 443.96,125.4 444.4,125.86 444.84,125.13 445.28,125.13 445.72,125.36 446.16,125.27 446.6,125.52 447.04,125.45 447.48,125.13 447.92,125.85 448.36,125.36 448.8,125.1 449.24,125.16 449.68,125.5 450.12,125.52 450.56,124.51 451,125.72 451.44,124.89 451.88,125.65 452.32,123.96 452.76,125.16 453.2,124.23 453.64,124.47 454.08,124.82 454.52,123.88 454.96,124.72 455.4,125.23 455.84,125.3 456.28,124.54 456.72,125.02 457.16,125.26 457.6,124.23 458.03,126.08 458.47,125.31 458.91,124.93 459.35,125.03 459.79,124.24 460.23,124.33 460.67,123.58 461.11,123.69 461.55,123.84 461.99,124.1 462.43,124.31 462.87,123.91 463.31,124.67 463.75,124.59 464.19,123.92 464.63,124.71 465.07,124.67 465.51,124.67 465.95,124.26 466.39,122.15 466.83,121.08 467.27,122.69 467.71,124.52 468.15,123.96 468.59,124.7 469.03,124.26 469.47,124.65 469.91,124.84 470.35,125.2 470.79,124.59 471.23,125.05 471.67,124.78 472.11,124.47 472.55,124.71 472.99,124.51 473.43,124.73 473.87,124.42 474.31,123.42 474.75,123.11 475.19,122.79 475.63,122.37 476.07,122.36 476.51,122.5 476.95,123.8 477.38,124.03 477.82,122.77 478.26,122.46 478.7,123.2 479.14,121.8 479.58,123.34 480.02,123.01 480.46,123.13 480.9,123.17 481.34,122.57 481.78,123.12 482.22,122.61 482.66,122.59 483.1,121.34 483.54,122.23 483.98,122.51 484.42,121.29 484.86,122.15 485.3,122.05 485.74,122.31 486.18,122.79 486.62,121.84 487.06,123.2 487.5,122.49 487.94,123 488.38,122.63 488.82,123.43 489.26,123.57 489.7,123.27 490.14,122.65 490.58,123.44 491.02,122.72 491.46,123.29 491.9,121.73 492.34,122.55 492.78,122.48 493.22,122.68 493.66,122.37 494.1,121.9 494.54,121.79 494.98,122.74 495.42,121.96 495.86,122.18 496.29,122.33 496.73,122.47 497.17,121.67 497.61,121.71 498.05,122.07 498.49,122.47 498.93,120.8 499.37,120.05 499.81,118.39 500.25,119.22 500.69,121.7 501.13,119.61 501.57,118.79 502.01,120.24 502.45,121.34 502.89,122.09 503.33,122.68 503.77,121.71 504.21,122.62 504.65,121.87 505.09,122.22 505.53,121.66 505.97,121.69 506.41,121.48 506.85,122.46 507.29,121.92 507.73,120.57 508.17,121.41 508.61,121.15 509.05,121.65 509.49,120.32 509.93,119.87 510.37,120.06 510.81,121.66 511.25,121.07 511.69,120.94 512.13,121 512.57,119.99 513.01,120.76 513.45,120.98 513.89,120.88 514.33,119.92 514.77,119.84 515.21,119.92 515.64,119.58 516.08,120.1 516.52,118.73 516.96,120.07 517.4,119.99 517.84,119.6 518.28,119.12 518.72,119.37 519.16,119.32 519.6,118.71 520.04,118.29 520.48,119.25 520.92,119.77 521.36,119.78 521.8,119.54 522.24,119.15 522.68,119.11 523.12,119.43 523.56,119.93 524,119.4 524.44,119.66 524.88,118.53 525.32,120.01 525.76,118.2 526.2,119.09 526.64,119.06 527.08,118.49 527.52,118.89 527.96,118.79 528.4,119.04 528.84,118.36 529.28,118.32 529.72,118.65 530.16,118.15 530.6,118.41 531.04,118.7 531.48,117.74 531.92,118.62 532.36,118.47 532.8,117.52 533.24,118.37 533.68,117.31 534.12,117.92 534.56,117.57 534.99,118.35 535.43,118.37 535.87,118.39 536.31,118.19 536.75,117.39 537.19,117.6 537.63,116.38 538.07,116.8 538.51,117.38 538.95,116.71 539.39,116.46 539.83,116.82 540.27,115.78 540.71,115.59 541.15,115.94 541.59,116.18 542.03,116.25 542.47,116.75 542.91,116.08 543.35,115.93 543.79,116.42 544.23,115.82 544.67,115.37 545.11,115.7 545.55,116.74 545.99,115.61 546.43,115.96 546.87,116.31 547.31,114.2 547.75,112.66 548.19,113.65 548.63,115.12 549.07,115 549.51,115.05 549.95,114.77 550.39,115.3 550.83,115.57 551.27,114.37 551.71,115.23 552.15,114.83 552.59,114.45 553.03,114.22 553.47,113.59 553.91,113.36 554.34,113.06 554.78,113.37 555.22,113.58 555.66,112.83 556.1,113.2 556.54,112.79 556.98,112.84 557.42,113.1 557.86,112.16 558.3,111.77 558.74,112.91 559.18,113.51 559.62,113.76 560.06,113.09 560.5,113.43 560.94,112.99 561.38,113.5 561.82,113.17 562.26,112.53 562.7,112.76 563.14,113.58 563.58,113.45 564.02,112.37 564.46,112.77 564.9,113.44 565.34,112.84 565.78,111.18 566.22,109.92 566.66,110.98 567.1,112.33 567.54,112.29 567.98,111.49 568.42,111.83 568.86,110.93 569.3,111.27 569.74,111.24 570.18,109.99 570.62,110.7 571.06,111.35 571.5,111.53 571.94,111.03 572.38,111.79 572.82,112.4 573.25,112.1 573.69,112.02 574.13,111.93 574.57,111.88 575.01,111.55 575.45,111.48 575.89,111.63 576.33,110.96 576.77,110.06 577.21,110.78 577.65,108.79 578.09,106.52 578.53,108.68 578.97,110.77 579.41,110.82 579.85,110.37 580.29,110.8 580.73,110.86 581.17,110.85 581.61,109.39 582.05,110.1 582.49,109.48 582.93,110.06 583.37,109.71 583.81,109.74 584.25,109.69 584.69,110.12 585.13,110.02 585.57,109.5 586.01,109.09 586.45,109.3 586.89,109.47 587.33,108.91 587.77,109.41 588.21,109.31 588.65,109.66 589.09,108.88 589.53,108.91 589.97,108.18 590.41,108.62 590.85,108.12 591.29,108.15 591.73,108.32 592.17,107.46 592.6,108.16 593.04,107.45 593.48,107.21 593.92,107.69 594.36,107.2 594.8,107.02 595.24,107.06 595.68,107.2 596.12,106.84 596.56,107.13 597,106.87 597.44,107.24 597.88,106.76 598.32,105.94 598.76,107.09 599.2,106.89 599.64,106.84 600.08,105.88 600.52,106.81 600.96,106.28 601.4,105.78 601.84,106.5 602.28,106.36 602.72,106.84 603.16,106.65 603.6,107.09 604.04,106.76 604.48,106.35 604.92,105.99 605.36,106.41 605.8,106.15 606.24,106.23 606.68,105.77 607.12,106.43 607.56,104.98 608,104.82 608.44,105.22 608.88,103.95 609.32,104.74 609.76,105.02 610.2,104.36 610.64,104.68 611.08,104.98 611.52,105.02 611.95,104.64 612.39,105.3 612.83,104.82 613.27,104.6 613.71,105.4 614.15,103.58 614.59,105.27 615.03,105.15 615.47,104.94 615.91,104.98 616.35,104.92 616.79,103.66 617.23,105.54 617.67,104.58 618.11,105.9 618.55,106.14 618.99,105.04 619.43,103.4 619.87,101.62 620.31,103.14 620.75,105.34 621.19,105.36 621.63,104.39 622.07,103.97 622.51,104.05 622.95,103.99 623.39,103.59 623.83,103.43 624.27,103.33 624.71,103.86 625.15,103.72 625.59,103.9 626.03,103.33 626.47,103.73 626.91,103.44 627.35,102.93 627.79,103.56 628.23,103.1 628.67,102.79 629.11,101.61 629.55,101.96 629.99,100.72 630.43,101.57 630.86,101.4 631.3,101.32 631.74,101.33 632.18,101.21 632.62,100.74 633.06,100.51 633.5,100.61 633.94,101.27 634.38,101.09 634.82,101.09 635.26,99.45 635.7,100.74 636.14,100.34 636.58,100.29 637.02,99.99 637.46,98.59 637.9,99.6 638.34,98.32 638.78,99.48 639.22,99.27 639.66,99.49 640.1,99.84 640.54,99.27 640.98,99.13 641.42,99.47 641.86,99.14 642.3,99.2 642.74,98.96 643.18,99.23 643.62,99.4 644.06,99.12 644.5,98.98 644.94,98.7 645.38,98.35 645.82,98.24 646.26,98.61 646.7,99.44 647.14,99.93 647.58,99.91 648.02,98.85 648.46,98 648.9,98.37 649.34,98.83 649.78,98.54 650.21,98.47 650.65,97.44 651.09,97.74 651.53,97.61 651.97,96.89 652.41,97.17 652.85,97.17 653.29,96.93 653.73,95.58 654.17,95.22 654.61,94.85 655.05,95.96 655.49,96.47 655.93,97.29 656.37,97.11 656.81,97.03 657.25,96.02 657.69,95.96 658.13,95.27 658.57,95.35 659.01,96.21 659.45,95.59 659.89,95.01 660.33,93.77 660.77,94.48 661.21,93.76 661.65,93.75 662.09,94.38 662.53,94.77 662.97,94.52 663.41,93.81 663.85,93.87 664.29,93.55 664.73,93.73 665.17,94.54 665.61,93.96 666.05,92.73 666.49,92.93 666.93,93.03 667.37,92.15 667.81,93.03 668.25,92.86 668.69,92.77 669.13,92.47 669.56,91.93 670,91.88 670.44,92.15 670.88,91.7 671.32,91.39 671.76,91.24 672.2,91.67 672.64,91.49 673.08,90.35 673.52,91.71 673.96,91.28 674.4,91.93 674.84,91.29 675.28,90.57 675.72,90.38 676.16,89.91 676.6,90.53 677.04,89.78 677.48,89.89 677.92,89.67 678.36,88.28 678.8,88.34 678.8,97.67 678.36,98.97 677.92,98.55 677.48,98.34 677.04,99.06 676.6,99.22 676.16,99.83 675.72,99.55 675.28,99.41 674.84,99.89 674.4,100.24 673.96,100.61 673.52,101.2 673.08,101.16 672.64,100.77 672.2,101.21 671.76,101.25 671.32,100.69 670.88,101.12 670.44,101.06 670,101.26 669.56,101.24 669.13,101.81 668.69,102.84 668.25,102.12 667.81,102.24 667.37,103.35 666.93,103.19 666.49,104.23 666.05,103.39 665.61,103.72 665.17,103.78 664.73,104.71 664.29,105.99 663.85,104.91 663.41,106.32 662.97,105.2 662.53,104.87 662.09,105.59 661.65,104.82 661.21,105.46 660.77,105.21 660.33,105.38 659.89,105.71 659.45,105.35 659.01,105.44 658.57,107.1 658.13,106.14 657.69,107.23 657.25,106.51 656.81,106.4 656.37,107.17 655.93,107.35 655.49,107.42 655.05,107.47 654.61,107.06 654.17,106.81 653.73,107.09 653.29,106.68 652.85,107.03 652.41,108.51 651.97,106.56 651.53,107.59 651.09,107.01 650.65,107.42 650.21,107.36 649.78,107.03 649.34,106.74 648.9,107.01 648.46,106.95 648.02,107.1 647.58,107.4 647.14,107.81 646.7,107.42 646.26,107.89 645.82,107.49 645.38,108.41 644.94,108.85 644.5,108.44 644.06,109.23 643.62,109.82 643.18,109.58 642.74,109.43 642.3,109.5 641.86,109.79 641.42,109.89 640.98,109.98 640.54,109.99 640.1,109.06 639.66,109.76 639.22,109.76 638.78,110.29 638.34,109.83 637.9,110.38 637.46,110.3 637.02,110.48 636.58,110.84 636.14,111.75 635.7,111.3 635.26,111.72 634.82,111.44 634.38,111.22 633.94,113.07 633.5,111.77 633.06,111.53 632.62,110.93 632.18,112.86 631.74,114.34 631.3,114.01 630.86,111.73 630.43,112.61 629.99,113.02 629.55,113.1 629.11,111.59 628.67,111.7 628.23,113.48 627.79,113.66 627.35,113.22 626.91,113.33 626.47,112.35 626.03,112.38 625.59,113.28 625.15,112.91 624.71,113.05 624.27,113.93 623.83,113.41 623.39,113.32 622.95,114.14 622.51,113.52 622.07,114.86 621.63,114.47 621.19,115.07 620.75,115.17 620.31,115.5 619.87,114.57 619.43,114.71 618.99,115.25 618.55,114.75 618.11,114.65 617.67,114.56 617.23,114.91 616.79,114.52 616.35,114.53 615.91,114.34 615.47,114.51 615.03,114.74 614.59,114.99 614.15,115.12 613.71,115.7 613.27,115.79 612.83,115.24 612.39,115.53 611.95,114.83 611.52,115.05 611.08,115.74 610.64,114.96 610.2,115.37 609.76,113.9 609.32,115.8 608.88,114.36 608.44,114.19 608,114.48 607.56,114.33 607.12,116.49 606.68,115.88 606.24,115.16 605.8,115.39 605.36,115.93 604.92,115.79 604.48,115.38 604.04,115.78 603.6,117.04 603.16,116.33 602.72,116.4 602.28,116.84 601.84,116.9 601.4,116.37 600.96,116.53 600.52,117.03 600.08,116.8 599.64,116.57 599.2,118.07 598.76,116.95 598.32,116.25 597.88,116.92 597.44,116.34 597,115.83 596.56,116.27 596.12,116.02 595.68,116.9 595.24,116.53 594.8,116.03 594.36,116.25 593.92,116.09 593.48,116.57 593.04,118.05 592.6,117.05 592.17,118.08 591.73,117.61 591.29,118.35 590.85,117.77 590.41,118.51 589.97,118.08 589.53,118.06 589.09,118.34 588.65,118.29 588.21,117.91 587.77,117.76 587.33,117.64 586.89,118.43 586.45,119.15 586.01,119.37 585.57,120.25 585.13,119.98 584.69,119.62 584.25,118.59 583.81,118.99 583.37,119.61 582.93,118.5 582.49,119.14 582.05,118.86 581.61,119.84 581.17,118.2 580.73,118.88 580.29,119.12 579.85,119.2 579.41,118.47 578.97,118.62 578.53,120.6 578.09,122.5 577.65,120.8 577.21,119.63 576.77,120 576.33,120.58 575.89,120.27 575.45,120.03 575.01,120.37 574.57,120.33 574.13,120.92 573.69,120.7 573.25,121.66 572.82,121.17 572.38,121.21 571.94,122.46 571.5,120.62 571.06,121.29 570.62,121.59 570.18,121.08 569.74,121.32 569.3,121.29 568.86,121.79 568.42,121.26 567.98,121.35 567.54,121.52 567.1,121.36 566.66,121.32 566.22,121.16 565.78,121.77 565.34,122.76 564.9,122.44 564.46,122.56 564.02,124.76 563.58,126.77 563.14,124.66 562.7,122.98 562.26,124.29 561.82,124.46 561.38,123.7 560.94,123.69 560.5,123.54 560.06,123.46 559.62,123.41 559.18,123.68 558.74,123.07 558.3,123.15 557.86,123.54 557.42,123.73 556.98,122.92 556.54,124.44 556.1,123.17 555.66,124.94 555.22,123.86 554.78,123.62 554.34,124.06 553.91,125.26 553.47,127.33 553.03,125.76 552.59,125.25 552.15,125.43 551.71,124.35 551.27,126.15 550.83,125.08 550.39,125.27 549.95,125.72 549.51,126.43 549.07,126.16 548.63,125.91 548.19,125.55 547.75,125.58 547.31,127.06 546.87,128.37 546.43,127.1 545.99,125.16 545.55,125.99 545.11,126.72 544.67,127.37 544.23,126.74 543.79,125.46 543.35,125.73 542.91,125.94 542.47,126.37 542.03,126.88 541.59,129.15 541.15,128.32 540.71,127.35 540.27,128.16 539.83,127.8 539.39,128.01 538.95,127.51 538.51,127.64 538.07,128.15 537.63,129.46 537.19,129.6 536.75,129.19 536.31,127.05 535.87,127.37 535.43,128.36 534.99,127.01 534.56,126.93 534.12,126.9 533.68,127.16 533.24,126.99 532.8,126.75 532.36,127.23 531.92,127.11 531.48,127.1 531.04,127.54 530.6,127.3 530.16,128.26 529.72,128.12 529.28,128.75 528.84,129.07 528.4,129.31 527.96,129.43 527.52,128.64 527.08,128.45 526.64,127.8 526.2,127.87 525.76,128.01 525.32,127.23 524.88,127.98 524.44,127.67 524,127.52 523.56,128.39 523.12,127.78 522.68,127.91 522.24,128.44 521.8,129.33 521.36,128.9 520.92,129.33 520.48,128.92 520.04,129.14 519.6,128.85 519.16,128.88 518.72,129.21 518.28,129.35 517.84,129.1 517.4,128.27 516.96,128.34 516.52,128.95 516.08,129.52 515.64,128.15 515.21,128.08 514.77,128.14 514.33,129.49 513.89,130.43 513.45,130.33 513.01,130.02 512.57,129.14 512.13,130.86 511.69,132.69 511.25,130.47 510.81,129.44 510.37,129.86 509.93,129.88 509.49,130.15 509.05,130.53 508.61,130.63 508.17,130.68 507.73,130.65 507.29,131.38 506.85,130.81 506.41,131.13 505.97,131.2 505.53,130.9 505.09,130.7 504.65,131.47 504.21,130.74 503.77,131.07 503.33,131.15 502.89,131.49 502.45,131.83 502.01,131.25 501.57,131.46 501.13,131.23 500.69,130.92 500.25,131.6 499.81,130.77 499.37,130.81 498.93,131.05 498.49,130.4 498.05,130.73 497.61,130.42 497.17,130.56 496.73,130.35 496.29,130.65 495.86,132.33 495.42,130.33 494.98,130.67 494.54,131.01 494.1,130.81 493.66,130.8 493.22,130.73 492.78,131.46 492.34,131.22 491.9,131.69 491.46,132.31 491.02,132.4 490.58,131.82 490.14,131.63 489.7,131.63 489.26,131.9 488.82,133.2 488.38,132.51 487.94,131.9 487.5,132.61 487.06,132.42 486.62,131.91 486.18,132.2 485.74,132.19 485.3,132.08 484.86,132.45 484.42,132.41 483.98,132.23 483.54,133.42 483.1,132.57 482.66,131.5 482.22,132.13 481.78,132.28 481.34,132.41 480.9,132.56 480.46,133.52 480.02,133.7 479.58,132.59 479.14,132.31 478.7,132.99 478.26,132.87 477.82,133.95 477.38,132.93 476.95,132.82 476.51,132.59 476.07,133.6 475.63,133.27 475.19,132.48 474.75,134.18 474.31,133.53 473.87,132.82 473.43,132.61 472.99,133.37 472.55,133.32 472.11,133.34 471.67,133.13 471.23,133.36 470.79,132.79 470.35,133.66 469.91,132.99 469.47,133.35 469.03,133.76 468.59,133.91 468.15,132.82 467.71,132.84 467.27,133.34 466.83,134.39 466.39,134.66 465.95,134.99 465.51,134.19 465.07,134.2 464.63,134.31 464.19,134.7 463.75,134.19 463.31,134.25 462.87,134.36 462.43,135.21 461.99,133.94 461.55,133.85 461.11,134.39 460.67,134.54 460.23,134.57 459.79,134.26 459.35,134.6 458.91,135.88 458.47,136.45 458.03,135.37 457.6,133.64 457.16,134.61 456.72,134.4 456.28,134.82 455.84,134.16 455.4,134.97 454.96,133.78 454.52,134.04 454.08,135.15 453.64,135.66 453.2,134.21 452.76,134.66 452.32,134.82 451.88,134.83 451.44,135.05 451,137.06 450.56,138.22 450.12,137.62 449.68,136.26 449.24,135.59 448.8,136.54 448.36,136.13 447.92,136.28 447.48,136.16 447.04,135.91 446.6,135.41 446.16,135.99 445.72,134.79 445.28,135.36 444.84,134.5 444.4,134.84 443.96,134.85 443.52,134.36 443.08,135.8 442.64,135 442.2,135.56 441.76,135.24 441.32,134.87 440.88,135.46 440.44,134.37 440,134.63 439.56,135.08 439.12,135.86 438.68,134.78 438.25,134.93 437.81,134 437.37,134.17 436.93,134.02 436.49,134.31 436.05,134.45 435.61,135.32 435.17,134.8 434.73,133.87 434.29,134.68 433.85,134.91 433.41,133.54 432.97,134.42 432.53,134.7 432.09,134.95 431.65,137.86 431.21,137.6 430.77,136.45 430.33,135.32 429.89,135.11 429.45,135.31 429.01,136.02 428.57,137.95 428.13,136.25 427.69,134.91 427.25,134.74 426.81,136.53 426.37,137.19 425.93,136.06 425.49,135.61 425.05,135.37 424.61,135.24 424.17,135.61 423.73,134.8 423.29,134.53 422.85,135.05 422.41,137.42 421.97,138.78 421.53,136.8 421.09,135.06 420.65,135.11 420.21,135.38 419.77,136.54 419.34,135.95 418.9,136.51 418.46,136.76 418.02,136.6 417.58,136.81 417.14,136.52 416.7,136.45 416.26,137.12 415.82,136.97 415.38,136.2 414.94,136.81 414.5,135.94 414.06,136.04 413.62,136.14 413.18,136.28 412.74,136.78 412.3,136.22 411.86,136.37 411.42,136.26 410.98,136.31 410.54,136.57 410.1,137.24 409.66,137.28 409.22,136.91 408.78,136.63 408.34,136.26 407.9,136.51 407.46,136.13 407.02,136.46 406.58,137.71 406.14,138.58 405.7,137.48 405.26,137.5 404.82,136.49 404.38,137.57 403.94,137.82 403.5,137.74 403.06,137.28 402.62,137.96 402.18,137.2 401.74,137.4 401.3,136.82 400.86,137.42 400.42,137.63 399.99,138.18 399.55,138.47 399.11,138.9 398.67,138.42 398.23,138.44 397.79,138 397.35,138.32 396.91,137.29 396.47,137.8 396.03,137.5 395.59,138.03 395.15,137.16 394.71,137.47 394.27,137.72 393.83,137.96 393.39,137.96 392.95,137.87 392.51,137.27 392.07,138.07 391.63,138.24 391.19,137.35 390.75,137.53 390.31,137.95 389.87,136.7 389.43,137.05 388.99,136.59 388.55,136.89 388.11,136.97 387.67,136.87 387.23,137.77 386.79,137.18 386.35,137.31 385.91,137.83 385.47,137.67 385.03,136.92 384.59,136.97 384.15,136.95 383.71,138.68 383.27,140.2 382.83,138.9 382.39,136.24 381.95,137.42 381.51,136.43 381.07,137.04 380.64,136.37 380.2,137.51 379.76,136.12 379.32,138.14 378.88,137.25 378.44,137.37 378,137.22 377.56,138.66 377.12,139.49 376.68,138.48 376.24,137.75 375.8,137.52 375.36,137.14 374.92,137.37 374.48,137.55 374.04,137.46 373.6,137.28 373.16,138.12 372.72,137.27 372.28,137.14 371.84,137.16 371.4,137.16" fill="#3179bf" fill-opacity="0.27"/>
<polygon points="371.4,124.42 371.84,124.68 372.28,124.57 372.72,124.47 373.16,124.11 373.6,124.1 374.04,124.21 374.48,124.15 374.92,123.71 375.36,123.46 375.8,124.46 376.24,124.23 376.68,123.4 377.12,123.1 377.56,122.03 378,122.6 378.44,123.79 378.88,123.51 379.32,123.72 379.76,124.09 380.2,123.86 380.64,123.89 381.07,123.42 381.51,123.54 381.95,123.07 382.39,123.73 382.83,123.02 383.27,123.81 383.71,124.26 384.15,123.1 384.59,123.2 385.03,123.09 385.47,123.23 385.91,123.24 386.35,123.72 386.79,122.65 387.23,122.48 387.67,122.91 388.11,122.34 388.55,122.37 388.99,121.7 389.43,123.23 389.87,122.88 390.31,122.9 390.75,123.02 391.19,123.19 391.63,123.27 392.07,123.05 392.51,123.55 392.95,123.33 393.39,123.27 393.83,123.29 394.27,123.17 394.71,123.95 395.15,123.92 395.59,122.66 396.03,123.6 396.47,123.98 396.91,123.28 397.35,123.72 397.79,123.64 398.23,123.35 398.67,123.21 399.11,123.25 399.55,123.41 399.99,123.76 400.42,123.31 400.86,123.43 401.3,123.08 401.74,122.79 402.18,122.54 402.62,122.21 403.06,121.82 403.5,122.58 403.94,121.93 404.38,122.05 404.82,121.75 405.26,122.41 405.7,122.17 406.14,121.88 406.58,123.04 407.02,123.11 407.46,122.23 407.9,123.48 408.34,123.38 408.78,123.25 409.22,124.12 409.66,124.16 410.1,124.14 410.54,124.03 410.98,123.87 411.42,123.18 411.86,123.63 412.3,123.28 412.74,123.35 413.18,123.37 413.62,123.12 414.06,122.18 414.5,122.95 414.94,123.52 415.38,122.69 415.82,123.03 416.26,123.62 416.7,123.63 417.14,123.22 417.58,123.87 418.02,123.92 418.46,123.5 418.9,122.3 419.34,120.95 419.77,122.51 420.21,123.51 420.65,124.12 421.09,123.2 421.53,123.9 421.97,122.81 422.41,122.7 422.85,123.58 423.29,122.28 423.73,121.89 424.17,122.39 424.61,123.11 425.05,124.07 425.49,122.5 425.93,123.63 426.37,123.76 426.81,123.05 427.25,123.74 427.69,123.04 428.13,123.35 428.57,123.35 429.01,122.87 429.45,122.72 429.89,122.19 430.33,121.71 430.77,122.26 431.21,122.14 431.65,121.52 432.09,122.12 432.53,120.83 432.97,121.4 433.41,122.04 433.85,121.82 434.29,121.77 434.73,122.02 435.17,122.02 435.61,121.38 436.05,122.11 436.49,122.28 436.93,122.26 437.37,122.36 437.81,121.83 438.25,121.47 438.68,121.58 439.12,122.48 439.56,121.38 440,121.4 440.44,122.71 440.88,122.22 441.32,123.04 441.76,123.2 442.2,123.21 442.64,123.18 443.08,122.02 443.52,122.94 443.96,122.22 444.4,122.76 444.84,122.34 445.28,121.49 445.72,121.91 446.16,121.92 446.6,122.28 447.04,122.93 447.48,122.63 447.92,122.33 448.36,121.51 448.8,120.61 449.24,121.11 449.68,121.18 450.12,120.99 450.56,120.27 451,121.69 451.44,120.82 451.88,121.84 452.32,121.08 452.76,122.39 453.2,122.73 453.64,122.72 454.08,121.84 454.52,121.67 454.96,121.62 455.4,120.86 455.84,121.98 456.28,122.02 456.72,121.57 457.16,120.77 457.6,121.2 458.03,120.79 458.47,120.74 458.91,120.33 459.35,120.78 459.79,121.55 460.23,120.82 460.67,120.44 461.11,121.03 461.55,121.74 461.99,121.28 462.43,121.43 462.87,120.14 463.31,120.6 463.75,120.22 464.19,120.56 464.63,120.59 465.07,120.36 465.51,120.17 465.95,120.22 466.39,119.44 466.83,119.65 467.27,120 467.71,120.48 468.15,121.21 468.59,119.16 469.03,120.98 469.47,120.13 469.91,120.32 470.35,120.23 470.79,120.66 471.23,120.22 471.67,120.05 472.11,118.88 472.55,120.39 472.99,119.52 473.43,119.84 473.87,119.79 474.31,119.25 474.75,119.53 475.19,118.99 475.63,119.75 476.07,119.23 476.51,120.58 476.95,120.38 477.38,120.03 477.82,120.74 478.26,120.16 478.7,118.87 479.14,118.96 479.58,120.52 480.02,120.98 480.46,120.22 480.9,119.65 481.34,117.98 481.78,119.51 482.22,118.66 482.66,118.9 483.1,120.32 483.54,119.91 483.98,119.74 484.42,118.57 484.86,117.19 485.3,117.72 485.74,119.3 486.18,119.84 486.62,118.79 487.06,119.52 487.5,119.39 487.94,119.34 488.38,119.79 488.82,119.23 489.26,117.33 489.7,118.34 490.14,118.51 490.58,119.12 491.02,119.04 491.46,119.16 491.9,119.33 492.34,118.63 492.78,119.84 493.22,118.76 493.66,119.48 494.1,116.72 494.54,116.6 494.98,117.14 495.42,119.21 495.86,119.09 496.29,119.28 496.73,118.95 497.17,118.83 497.61,119.64 498.05,119.18 498.49,119.35 498.93,119.3 499.37,118.86 499.81,118.83 500.25,119.61 500.69,120.03 501.13,119.77 501.57,119.06 502.01,118.74 502.45,118.47 502.89,118.75 503.33,118.81 503.77,119.2 504.21,118.43 504.65,118.46 505.09,117.67 505.53,117.53 505.97,118.2 506.41,117.06 506.85,118.06 507.29,118.34 507.73,117.95 508.17,116.52 508.61,117.89 509.05,118.06 509.49,117.9 509.93,117.75 510.37,117.78 510.81,116.15 511.25,117.62 511.69,116.96 512.13,117.03 512.57,116.63 513.01,117.38 513.45,116.74 513.89,114.79 514.33,114.06 514.77,115.85 515.21,118.01 515.64,117.41 516.08,117.88 516.52,118.03 516.96,117.35 517.4,117.64 517.84,118.25 518.28,116.97 518.72,117.91 519.16,117.75 519.6,117.41 520.04,116.67 520.48,116.51 520.92,116.26 521.36,117.04 521.8,116.85 522.24,116.99 522.68,116.85 523.12,117.04 523.56,116.53 524,117.42 524.44,116.41 524.88,116.14 525.32,116.45 525.76,117.25 526.2,116.96 526.64,116.72 527.08,117.31 527.52,117.23 527.96,117.41 528.4,117.67 528.84,116.73 529.28,115.51 529.72,117.23 530.16,116.22 530.6,116.72 531.04,116.51 531.48,115.69 531.92,115.74 532.36,116.14 532.8,116.71 533.24,116.1 533.68,115.89 534.12,116.39 534.56,115.79 534.99,116.37 535.43,116.42 535.87,115.02 536.31,115.84 536.75,115.41 537.19,115.96 537.63,115.87 538.07,115 538.51,115.84 538.95,115.71 539.39,115.11 539.83,114.77 540.27,114.63 540.71,114.28 541.15,114.85 541.59,114.16 542.03,114.1 542.47,114.66 542.91,114.5 543.35,112.16 543.79,110.98 544.23,112.46 544.67,115.16 545.11,113.89 545.55,114.97 545.99,115.37 546.43,114.41 546.87,113.64 547.31,114.71 547.75,115.17 548.19,113.88 548.63,114.47 549.07,114.37 549.51,114.71 549.95,114.14 550.39,113.73 550.83,113.68 551.27,114.04 551.71,114.45 552.15,113.63 552.59,114.12 553.03,112.8 553.47,114.39 553.91,114.6 554.34,114.3 554.78,114.3 555.22,113.48 555.66,114.08 556.1,114.14 556.54,114.31 556.98,113.77 557.42,114 557.86,113.95 558.3,114.01 558.74,113.61 559.18,113.62 559.62,112.87 560.06,113.95 560.5,113.91 560.94,114.09 561.38,113.51 561.82,113.85 562.26,113.24 562.7,113.53 563.14,113.13 563.58,113.36 564.02,113.3 564.46,113.14 564.9,113.56 565.34,113.38 565.78,113.74 566.22,113.19 566.66,112.6 567.1,113.35 567.54,114.14 567.98,114.58 568.42,114.7 568.86,114.03 569.3,114.09 569.74,113.82 570.18,113.46 570.62,113.57 571.06,113.42 571.5,112.89 571.94,112.71 572.38,112.47 572.82,112.5 573.25,112.24 573.69,112.35 574.13,112.1 574.57,112.24 575.01,111.6 575.45,112.22 575.89,111.3 576.33,112.07 576.77,112 577.21,111.68 577.65,111.88 578.09,111.67 578.53,110.3 578.97,111.42 579.41,111.38 579.85,111.21 580.29,110.57 580.73,110.6 581.17,110.68 581.61,109.26 582.05,109.41 582.49,111.27 582.93,110.66 583.37,110.73 583.81,109.93 584.25,111.25 584.69,111.02 585.13,110.54 585.57,111 586.01,110.75 586.45,110.79 586.89,111.22 587.33,110.16 587.77,110.46 588.21,109.14 588.65,109.96 589.09,110.19 589.53,109.08 589.97,108.68 590.41,109.13 590.85,108.44 591.29,108.95 591.73,108.97 592.17,109.83 592.6,109.93 593.04,108.58 593.48,109.39 593.92,109.55 594.36,109.87 594.8,109.84 595.24,109.87 595.68,109.89 596.12,108.7 596.56,109.3 597,109.41 597.44,109.55 597.88,108.37 598.32,106.68 598.76,107.89 599.2,108.58 599.64,110.07 600.08,110.05 600.52,108.61 600.96,108 601.4,108.64 601.84,108.32 602.28,108.58 602.72,107.85 603.16,107.19 603.6,107.15 604.04,107.4 604.48,105.94 604.92,106.75 605.36,107.1 605.8,105.4 606.24,107.02 606.68,107.14 607.12,106.19 607.56,107.33 608,107.37 608.44,106.79 608.88,106.09 609.32,106.55 609.76,106.77 610.2,107.56 610.64,107.41 611.08,107.02 611.52,106.57 611.95,105.24 612.39,103.67 612.83,105.06 613.27,107.12 613.71,106.33 614.15,108.1 614.59,107.62 615.03,107.41 615.47,108.01 615.91,108.21 616.35,108.09 616.79,107.94 617.23,106.04 617.67,107.74 618.11,107.59 618.55,108.13 618.99,107.43 619.43,106.51 619.87,107.29 620.31,107.11 620.75,106.03 621.19,106.24 621.63,106.93 622.07,107.09 622.51,106.76 622.95,106.86 623.39,106.4 623.83,106.63 624.27,107.04 624.71,106.56 625.15,106.35 625.59,106.54 626.03,105.27 626.47,105.06 626.91,105.27 627.35,105.29 627.79,106.32 628.23,104.87 628.67,105.85 629.11,105.39 629.55,105.81 629.99,106.13 630.43,105.84 630.86,105.83 631.3,105.97 631.74,103.7 632.18,103.56 632.62,102.72 633.06,103.28 633.5,102.98 633.94,103.78 634.38,103.73 634.82,102.75 635.26,103.08 635.7,103.06 636.14,103.15 636.58,103.52 637.02,103.19 637.46,103.12 637.9,103.67 638.34,100.36 638.78,100.06 639.22,100.92 639.66,101.69 640.1,102.26 640.54,99.25 640.98,99.3 641.42,100.51 641.86,101.41 642.3,101.3 642.74,100.32 643.18,100.71 643.62,99.63 644.06,100.88 644.5,100.42 644.94,101.23 645.38,101.03 645.82,100.68 646.26,100.79 646.7,100.95 647.14,101.1 647.58,101.79 648.02,101.67 648.46,101.38 648.9,101.14 649.34,100.86 649.78,101.58 650.21,101 650.65,101.06 651.09,100.67 651.53,101.41 651.97,101.55 652.41,100.22 652.85,101.46 653.29,100.52 653.73,100.84 654.17,99.43 654.61,98.46 655.05,98.86 655.49,99.43 655.93,99.94 656.37,98.92 656.81,99.28 657.25,99.47 657.69,98.49 658.13,98.69 658.57,97.98 659.01,98.58 659.45,98.07 659.89,98.52 660.33,97.71 660.77,97.62 661.21,96.76 661.65,96.8 662.09,96.29 662.53,96.37 662.97,95.92 663.41,95.22 663.85,94.93 664.29,94.71 664.73,95.23 665.17,94.34 665.61,94.81 666.05,95.33 666.49,95.47 666.93,95.56 667.37,95.46 667.81,95.6 668.25,95.58 668.69,95.27 669.13,94.92 669.56,94.64 670,94.55 670.44,93.83 670.88,93.98 671.32,93.38 671.76,92.69 672.2,92.24 672.64,91.62 673.08,90.33 673.52,91.52 673.96,92.67 674.4,92.25 674.84,91.11 675.28,90.82 675.72,89.9 676.16,90.36 676.6,90.57 677.04,91.03 677.48,90.74 677.92,91.47 678.36,90.18 678.8,91.13 678.8,101.45 678.36,101.33 677.92,101.4 677.48,102.4 677.04,102.33 676.6,103.28 676.16,102.18 675.72,102.35 675.28,102.91 674.84,103.2 674.4,104.49 673.96,104.93 673.52,106.75 673.08,107.13 672.64,106.68 672.2,104.78 671.76,105.16 671.32,105.98 670.88,105.45 670.44,105.13 670,105.73 669.56,106.05 669.13,105.6 668.69,105.59 668.25,105.19 667.81,105 667.37,105.69 666.93,105.29 666.49,107.32 666.05,107.2 665.61,106.82 665.17,106.71 664.73,107.89 664.29,106.98 663.85,107.16 663.41,107.66 662.97,107.4 662.53,109.44 662.09,109.87 661.65,110.17 661.21,110.38 660.77,108.74 660.33,108.68 659.89,107.98 659.45,108.05 659.01,108.26 658.57,108.26 658.13,108.41 657.69,108.63 657.25,109.71 656.81,107.77 656.37,107.79 655.93,108.41 655.49,107.72 655.05,108.56 654.61,107.88 654.17,108.61 653.73,109.2 653.29,109.91 652.85,109.39 652.41,109.75 651.97,109.82 651.53,109.85 651.09,110.28 650.65,110.5 650.21,110.95 649.78,110.45 649.34,109.92 648.9,110.31 648.46,109.51 648.02,109.82 647.58,110.45 647.14,110.42 646.7,109.88 646.26,110.34 645.82,110.37 645.38,110.32 644.94,110.49 644.5,111.45 644.06,110.94 643.62,111.34 643.18,111.88 642.74,111.5 642.3,111.27 641.86,112.94 641.42,114.05 640.98,113.71 640.54,112 640.1,111.92 639.66,112.93 639.22,112.04 638.78,112.73 638.34,113.1 637.9,112.73 637.46,112.57 637.02,112.12 636.58,112.57 636.14,112.56 635.7,113.08 635.26,113.53 634.82,112.54 634.38,113.62 633.94,112.32 633.5,112.62 633.06,112.24 632.62,113.48 632.18,112.96 631.74,112.93 631.3,115.1 630.86,116 630.43,115.36 629.99,117.45 629.55,117.3 629.11,116.03 628.67,116 628.23,116.15 627.79,116.47 627.35,116.36 626.91,116.34 626.47,115.5 626.03,116.47 625.59,117.96 625.15,116.03 624.71,115.69 624.27,115.48 623.83,116.19 623.39,115.67 622.95,116.15 622.51,116.16 622.07,116.28 621.63,116.85 621.19,117.3 620.75,116.68 620.31,117.19 619.87,117.02 619.43,116.63 618.99,116.42 618.55,117.95 618.11,116.78 617.67,116.9 617.23,116.2 616.79,116.51 616.35,116.45 615.91,116.62 615.47,117.18 615.03,116.61 614.59,117.14 614.15,117.57 613.71,116.87 613.27,117.71 612.83,116.97 612.39,117.44 611.95,117.32 611.52,117.84 611.08,117.6 610.64,118.42 610.2,118.13 609.76,118.38 609.32,118.53 608.88,118.47 608.44,118.33 608,118.19 607.56,118.16 607.12,118.25 606.68,119.9 606.24,121.73 605.8,119 605.36,117.43 604.92,117.46 604.48,117.74 604.04,118.04 603.6,117.33 603.16,117.98 602.72,118.54 602.28,119.43 601.84,118.62 601.4,118.3 600.96,118.49 600.52,118.79 600.08,118.93 599.64,119.87 599.2,119.65 598.76,120.63 598.32,119.04 597.88,119.08 597.44,119.28 597,119.38 596.56,118.75 596.12,119.49 595.68,118.92 595.24,118.79 594.8,119.02 594.36,119.42 593.92,119.6 593.48,121.04 593.04,123.19 592.6,121.75 592.17,119.72 591.73,119.41 591.29,120.01 590.85,119.41 590.41,120.53 589.97,119.13 589.53,119.29 589.09,119.42 588.65,119.93 588.21,119.87 587.77,120.6 587.33,121.9 586.89,121.91 586.45,123.33 586.01,122.58 585.57,120.11 585.13,120.89 584.69,121.02 584.25,120.5 583.81,121.08 583.37,120.47 582.93,120.2 582.49,120.23 582.05,120.47 581.61,121.33 581.17,121.14 580.73,121.67 580.29,120.59 579.85,120.92 579.41,121.61 578.97,121.19 578.53,121.84 578.09,122.27 577.65,121.75 577.21,123.27 576.77,122.42 576.33,121.84 575.89,121.77 575.45,121.7 575.01,121.75 574.57,121.57 574.13,121.62 573.69,121.49 573.25,122.15 572.82,121.64 572.38,121.55 571.94,122.39 571.5,122.33 571.06,123.22 570.62,122.97 570.18,123.11 569.74,122.56 569.3,122.6 568.86,121.57 568.42,123.12 567.98,124.49 567.54,122.83 567.1,121.39 566.66,121.84 566.22,121.97 565.78,121.57 565.34,122.06 564.9,121.83 564.46,121.76 564.02,122.66 563.58,122.42 563.14,122.9 562.7,124.13 562.26,123.56 561.82,124.43 561.38,123.3 560.94,122.87 560.5,122.91 560.06,122.72 559.62,123.24 559.18,123.53 558.74,123.36 558.3,122.3 557.86,123.55 557.42,123.05 556.98,122.55 556.54,123.5 556.1,123.37 555.66,123.17 555.22,124.25 554.78,122.92 554.34,123.71 553.91,123.14 553.47,124.29 553.03,124.11 552.59,124.26 552.15,124.26 551.71,124.62 551.27,124.8 550.83,124.48 550.39,124.54 549.95,125.06 549.51,124.87 549.07,125.09 548.63,124.56 548.19,124.98 547.75,124.23 547.31,124.68 546.87,123.9 546.43,124.78 545.99,123.68 545.55,124.84 545.11,124.05 544.67,125.18 544.23,124.27 543.79,124.35 543.35,124.42 542.91,124.81 542.47,125.13 542.03,124.81 541.59,125.8 541.15,124.36 540.71,124.58 540.27,125.53 539.83,124.56 539.39,124.5 538.95,125.56 538.51,124.24 538.07,124.49 537.63,124.75 537.19,125.01 536.75,125.59 536.31,126.05 535.87,126.46 535.43,126.1 534.99,126.61 534.56,125.86 534.12,125.93 533.68,125.76 533.24,125.88 532.8,126.27 532.36,125.57 531.92,126.49 531.48,125.03 531.04,125.56 530.6,125.52 530.16,124.97 529.72,125.93 529.28,126.14 528.84,125.88 528.4,125.16 527.96,126.01 527.52,125.89 527.08,126.69 526.64,126.13 526.2,126.22 525.76,126.84 525.32,126.18 524.88,126.32 524.44,126.04 524,127.66 523.56,129.36 523.12,127.5 522.68,126.4 522.24,127.1 521.8,126.31 521.36,125.9 520.92,126.68 520.48,125.99 520.04,126.51 519.6,127.93 519.16,129.02 518.72,128.58 518.28,126.52 517.84,126.84 517.4,126.17 516.96,127.01 516.52,127.17 516.08,127.84 515.64,126.54 515.21,127.04 514.77,126.82 514.33,126.57 513.89,127.36 513.45,127.14 513.01,126.69 512.57,127.24 512.13,127.22 511.69,127.3 511.25,127.76 510.81,127.52 510.37,127.26 509.93,127.76 509.49,127.4 509.05,127.42 508.61,127.81 508.17,127.42 507.73,127.48 507.29,127.44 506.85,128.23 506.41,128.16 505.97,127.46 505.53,127.67 505.09,127.49 504.65,127.87 504.21,127.93 503.77,128.94 503.33,128.28 502.89,127.7 502.45,128.31 502.01,127.39 501.57,128.13 501.13,127.26 500.69,127.04 500.25,127 499.81,126.97 499.37,126.61 498.93,126.5 498.49,127.39 498.05,128.89 497.61,128.15 497.17,127.89 496.73,128.09 496.29,128.33 495.86,128.18 495.42,128.79 494.98,129.59 494.54,129.85 494.1,129.55 493.66,129.6 493.22,130.64 492.78,128.74 492.34,129.8 491.9,129.55 491.46,129.17 491.02,130.72 490.58,132.29 490.14,130.16 489.7,128.13 489.26,128.7 488.82,128.46 488.38,129.15 487.94,129.52 487.5,128.16 487.06,128.29 486.62,128.88 486.18,128.44 485.74,128.45 485.3,129.17 484.86,130.52 484.42,129.6 483.98,129.65 483.54,130.27 483.1,131 482.66,129.97 482.22,129.98 481.78,130.42 481.34,130.06 480.9,130.65 480.46,129.72 480.02,129.34 479.58,130.04 479.14,129.31 478.7,129.74 478.26,130.22 477.82,130.02 477.38,129.57 476.95,129.53 476.51,129.05 476.07,129.2 475.63,128.93 475.19,128.53 474.75,128.93 474.31,128.99 473.87,129.13 473.43,129.14 472.99,128.58 472.55,128.39 472.11,129.49 471.67,128.85 471.23,128.81 470.79,129.24 470.35,129.18 469.91,130.17 469.47,129.58 469.03,129.36 468.59,129.2 468.15,129.56 467.71,129.81 467.27,129.06 466.83,129.05 466.39,129.66 465.95,129.58 465.51,130.75 465.07,130 464.63,129.85 464.19,129.69 463.75,130.37 463.31,129.77 462.87,130.06 462.43,129.74 461.99,130.17 461.55,130.7 461.11,130.1 460.67,130.65 460.23,129.57 459.79,129.71 459.35,130.01 458.91,129.96 458.47,130.64 458.03,131.13 457.6,130.74 457.16,131.33 456.72,130.52 456.28,131.77 455.84,130.58 455.4,131.46 454.96,131.02 454.52,131.68 454.08,130.44 453.64,130.41 453.2,130.56 452.76,130.68 452.32,130.3 451.88,130.64 451.44,129.75 451,130.03 450.56,130.83 450.12,130.29 449.68,129.37 449.24,129.86 448.8,132 448.36,133 447.92,131.5 447.48,130.17 447.04,130.84 446.6,132.13 446.16,130.56 445.72,131.98 445.28,131.55 444.84,131.17 444.4,131.12 443.96,131.77 443.52,131.58 443.08,130.58 442.64,130.78 442.2,130.55 441.76,131.28 441.32,131.28 440.88,130.89 440.44,130.68 440,131.66 439.56,132.14 439.12,132.12 438.68,132.05 438.25,130.7 437.81,131.03 437.37,131.62 436.93,131.65 436.49,131.1 436.05,131.25 435.61,131.18 435.17,131.11 434.73,131.66 434.29,130.75 433.85,131.43 433.41,130.82 432.97,130.31 432.53,131.49 432.09,130.94 431.65,131.28 431.21,130.89 430.77,133.29 430.33,133.37 429.89,132.37 429.45,131.41 429.01,131.88 428.57,132.65 428.13,132.14 427.69,133.14 427.25,132.1 426.81,131.64 426.37,132.12 425.93,131.78 425.49,131.96 425.05,132.63 424.61,131.89 424.17,131.22 423.73,131.78 423.29,132.66 422.85,133.54 422.41,132.44 421.97,132.18 421.53,131.81 421.09,131.54 420.65,132.12 420.21,132.39 419.77,133.22 419.34,131.76 418.9,131.5 418.46,132.39 418.02,131.99 417.58,131.98 417.14,131.7 416.7,132.01 416.26,132.45 415.82,132.58 415.38,132.76 414.94,132.02 414.5,132.2 414.06,131.53 413.62,132.2 413.18,131.65 412.74,131.25 412.3,131.15 411.86,131.34 411.42,130.99 410.98,130.48 410.54,131.47 410.1,131.85 409.66,132.43 409.22,132.12 408.78,132.29 408.34,131.44 407.9,131.78 407.46,132.15 407.02,132.55 406.58,132.38 406.14,133.64 405.7,132.98 405.26,132.67 404.82,132.78 404.38,132.65 403.94,133.12 403.5,134.04 403.06,133.86 402.62,133.24 402.18,133.24 401.74,133.24 401.3,132.61 400.86,133.26 400.42,132.45 399.99,133.12 399.55,132.98 399.11,132.87 398.67,131.98 398.23,132.39 397.79,132.23 397.35,132.51 396.91,132.58 396.47,132.45 396.03,132.69 395.59,132.95 395.15,132.59 394.71,132.4 394.27,133.01 393.83,133.51 393.39,132.74 392.95,132.87 392.51,132.74 392.07,133.65 391.63,132.63 391.19,132.54 390.75,133 390.31,133.13 389.87,131.99 389.43,132.69 388.99,132.24 388.55,133.36 388.11,132.29 387.67,131.53 387.23,132.46 386.79,132.39 386.35,132.37 385.91,132.95 385.47,131.97 385.03,132.7 384.59,132.55 384.15,133.83 383.71,132.91 383.27,132.21 382.83,133.24 382.39,134.39 381.95,131.81 381.51,131.99 381.07,131.95 380.64,132.22 380.2,131.64 379.76,130.94 379.32,131.46 378.88,131.31 378.44,131.56 378,131.66 377.56,131.8 377.12,131.96 376.68,131.81 376.24,132.49 375.8,132.78 375.36,132.36 374.92,132.61 374.48,132.57 374.04,133.32 373.6,132.73 373.16,132.29 372.72,132.04 372.28,132.65 371.84,132.18 371.4,132.62" fill="#f07823" fill-opacity="0.27"/>
<polygon points="371.4,127.69 371.84,128.88 372.28,128.44 372.72,128 373.16,128.83 373.6,128.34 374.04,128.42 374.48,128.55 374.92,128.65 375.36,128.7 375.8,128.1 376.24,128.32 376.68,128.16 377.12,128.67 377.56,128.22 378,128.25 378.44,128.02 378.88,128.34 379.32,127.82 379.76,127.4 380.2,128.21 380.64,128.64 381.07,128.12 381.51,126.98 381.95,127.94 382.39,128.14 382.83,128.07 383.27,127.57 383.71,127.82 384.15,127.83 384.59,128.1 385.03,128.32 385.47,127.26 385.91,127.88 386.35,128.3 386.79,127.64 387.23,127.67 387.67,127.15 388.11,127.21 388.55,127.88 388.99,127.01 389.43,127.35 389.87,126.88 390.31,127.04 390.75,127.19 391.19,126.76 391.63,126.42 392.07,127 392.51,126.99 392.95,127.96 393.39,127.47 393.83,127.88 394.27,127.3 394.71,127.63 395.15,126.71 395.59,126.64 396.03,127.01 396.47,126.67 396.91,127.04 397.35,126.37 397.79,127.29 398.23,127.18 398.67,126.59 399.11,127.36 399.55,127.44 399.99,127.74 400.42,127.47 400.86,128.49 401.3,128.09 401.74,127.29 402.18,128.58 402.62,127.35 403.06,125.12 403.5,124.78 403.94,124.72 404.38,124.33 404.82,124.46 405.26,125.6 405.7,126.72 406.14,126.75 406.58,126.78 407.02,126.32 407.46,127.32 407.9,127.22 408.34,126.85 408.78,126.59 409.22,127.43 409.66,126.86 410.1,127.25 410.54,126.73 410.98,126.7 411.42,127.38 411.86,126.75 412.3,127.73 412.74,127.31 413.18,126.57 413.62,127.56 414.06,126.67 414.5,126.43 414.94,126.71 415.38,125.73 415.82,126.45 416.26,126.35 416.7,127.07 417.14,124.88 417.58,124.76 418.02,125.73 418.46,126.39 418.9,126.65 419.34,126.06 419.77,126.99 420.21,126.33 420.65,126.97 421.09,126.9 421.53,126.96 421.97,126.58 422.41,126.15 422.85,127.38 423.29,127.74 423.73,126.14 424.17,124.48 424.61,124.83 425.05,126.26 425.49,126.1 425.93,126.22 426.37,126.66 426.81,125.89 427.25,125.86 427.69,125.52 428.13,125.33 428.57,126.1 429.01,125.72 429.45,125.19 429.89,126.11 430.33,126.07 430.77,126.52 431.21,125.86 431.65,125 432.09,125.26 432.53,125.12 432.97,125.34 433.41,124.07 433.85,124.92 434.29,125.07 434.73,124.99 435.17,124.62 435.61,124.73 436.05,125.11 436.49,125.47 436.93,125.37 437.37,125.64 437.81,125.36 438.25,124.99 438.68,124.85 439.12,125.12 439.56,126.03 440,125.58 440.44,125.72 440.88,124.76 441.32,124.6 441.76,124.93 442.2,124.17 442.64,125.18 443.08,125.39 443.52,125.08 443.96,123.65 444.4,125.29 444.84,124.28 445.28,124.95 445.72,124.99 446.16,124.26 446.6,124.6 447.04,124.08 447.48,122.13 447.92,120.71 448.36,122.09 448.8,124.32 449.24,123.88 449.68,124.86 450.12,124.83 450.56,121.44 451,121.9 451.44,123.24 451.88,124.61 452.32,124.59 452.76,124.02 453.2,124.07 453.64,124.42 454.08,124.39 454.52,123.91 454.96,124.14 455.4,123.94 455.84,122.94 456.28,122.76 456.72,122.56 457.16,123.94 457.6,123.57 458.03,122.86 458.47,123.12 458.91,123.47 459.35,122.63 459.79,119.91 460.23,121.98 460.67,124.12 461.11,124.26 461.55,123.56 461.99,122.23 462.43,122.81 462.87,123.79 463.31,123.66 463.75,123.69 464.19,123.2 464.63,123.6 465.07,123.7 465.51,123.15 465.95,123.13 466.39,123.38 466.83,123.11 467.27,122.47 467.71,123.36 468.15,123.92 468.59,124.44 469.03,122.26 469.47,122.02 469.91,122.46 470.35,123.74 470.79,122.95 471.23,122.5 471.67,123.42 472.11,122.96 472.55,122.79 472.99,122.79 473.43,122.64 473.87,122.03 474.31,122.66 474.75,122.67 475.19,122.84 475.63,122.45 476.07,123.2 476.51,123.2 476.95,123.75 477.38,123.33 477.82,122.14 478.26,123.76 478.7,123.39 479.14,122.75 479.58,122.96 480.02,123.27 480.46,123.07 480.9,123.25 481.34,122.31 481.78,122.16 482.22,122.77 482.66,121.96 483.1,122.58 483.54,122.05 483.98,122.15 484.42,122.77 484.86,122.97 485.3,122.06 485.74,121.94 486.18,122.09 486.62,121.98 487.06,121.38 487.5,121.62 487.94,120.72 488.38,121.46 488.82,121.64 489.26,120.01 489.7,121.5 490.14,120.32 490.58,121.19 491.02,121.42 491.46,121.2 491.9,120.32 492.34,121.34 492.78,120.35 493.22,120.7 493.66,121.68 494.1,121.26 494.54,121.85 494.98,122.13 495.42,122.61 495.86,122.27 496.29,122.85 496.73,121.95 497.17,121.82 497.61,121.96 498.05,121.33 498.49,122.04 498.93,120.89 499.37,121.83 499.81,121.37 500.25,121.16 500.69,120.71 501.13,119.39 501.57,120.57 502.01,120.68 502.45,120.32 502.89,120.65 503.33,119.96 503.77,120.27 504.21,120.74 504.65,120.66 505.09,120.21 505.53,119.42 505.97,120.79 506.41,121.23 506.85,120.72 507.29,121.29 507.73,120.92 508.17,121.42 508.61,120.89 509.05,119.97 509.49,120.46 509.93,121.06 510.37,120.75 510.81,120.84 511.25,120.61 511.69,120.12 512.13,118.25 512.57,119.97 513.01,119.4 513.45,119 513.89,119.5 514.33,119.74 514.77,118.85 515.21,119.15 515.64,118.34 516.08,118.71 516.52,119.01 516.96,119.45 517.4,119.37 517.84,118.57 518.28,118.92 518.72,119.45 519.16,119.65 519.6,119.61 520.04,119.21 520.48,119.62 520.92,119.35 521.36,119.25 521.8,119.42 522.24,118.87 522.68,118.81 523.12,118.93 523.56,119.94 524,119.82 524.44,119.84 524.88,119.42 525.32,119.29 525.76,117.81 526.2,118.73 526.64,119.23 527.08,119.19 527.52,118.79 527.96,116.57 528.4,115.12 528.84,116.88 529.28,118.44 529.72,118.18 530.16,117.64 530.6,118.88 531.04,118.57 531.48,118.68 531.92,118.59 532.36,117.76 532.8,117.57 533.24,117.69 533.68,118.11 534.12,118.21 534.56,117.55 534.99,117.95 535.43,117.72 535.87,117.17 536.31,116.12 536.75,114.99 537.19,115.94 537.63,117.33 538.07,117.96 538.51,117.74 538.95,117.25 539.39,116.48 539.83,116.16 540.27,115.84 540.71,117.24 541.15,116.79 541.59,116.44 542.03,115.86 542.47,115.73 542.91,116.91 543.35,117.02 543.79,117.05 544.23,117.08 544.67,117.1 545.11,115.96 545.55,116.93 545.99,116.87 546.43,116.67 546.87,116.61 547.31,115.91 547.75,115.91 548.19,116.01 548.63,116.35 549.07,115.27 549.51,116.07 549.95,115.98 550.39,115.08 550.83,115.01 551.27,114.66 551.71,114.98 552.15,114.48 552.59,115.32 553.03,115.91 553.47,115.51 553.91,115.58 554.34,114.95 554.78,115.14 555.22,115.09 555.66,115.29 556.1,116.05 556.54,116.41 556.98,115.79 557.42,115.82 557.86,116.01 558.3,115.12 558.74,115.08 559.18,115.63 559.62,114.88 560.06,112.47 560.5,112.15 560.94,113.51 561.38,114.54 561.82,114.58 562.26,113.6 562.7,114.56 563.14,113.97 563.58,113.77 564.02,113.74 564.46,114.7 564.9,114.66 565.34,113.94 565.78,114.24 566.22,114.73 566.66,113.75 567.1,114.23 567.54,113.66 567.98,114.86 568.42,112.59 568.86,112.7 569.3,113.73 569.74,114.55 570.18,114.99 570.62,113.97 571.06,112.9 571.5,114.07 571.94,113.92 572.38,114.1 572.82,114.06 573.25,113.76 573.69,113.75 574.13,112.73 574.57,112.68 575.01,113.33 575.45,113.31 575.89,113.41 576.33,113.43 576.77,112.39 577.21,113.27 577.65,112.81 578.09,113.15 578.53,112.57 578.97,112.61 579.41,113 579.85,110.45 580.29,109.22 580.73,110.5 581.17,111.53 581.61,111.36 582.05,110.87 582.49,111.08 582.93,112.06 583.37,111.73 583.81,111.7 584.25,111.58 584.69,111.43 585.13,110.73 585.57,110.9 586.01,111.05 586.45,111.57 586.89,111.32 587.33,110.97 587.77,111.19 588.21,110.38 588.65,109.6 589.09,110.66 589.53,109.14 589.97,110.26 590.41,110.26 590.85,110.57 591.29,110.64 591.73,109.77 592.17,110.71 592.6,110.49 593.04,111.12 593.48,111.08 593.92,111.33 594.36,111.05 594.8,111.1 595.24,110.21 595.68,110.98 596.12,110.86 596.56,110.33 597,110.26 597.44,110.59 597.88,108.89 598.32,108.52 598.76,108.84 599.2,108.42 599.64,108.42 600.08,108.87 600.52,108.93 600.96,108.64 601.4,108.74 601.84,108.68 602.28,108.07 602.72,108.24 603.16,108.25 603.6,108.39 604.04,108.44 604.48,108.46 604.92,107.41 605.36,107.81 605.8,108.39 606.24,107.71 606.68,107.56 607.12,108.26 607.56,107.39 608,107.62 608.44,107.45 608.88,107.09 609.32,106.68 609.76,105.74 610.2,105.78 610.64,106.37 611.08,106.72 611.52,106.25 611.95,106.01 612.39,105.71 612.83,106.49 613.27,105.74 613.71,106.58 614.15,105.93 614.59,107.25 615.03,107.04 615.47,105.23 615.91,103.14 616.35,104.77 616.79,106.48 617.23,105.54 617.67,105.41 618.11,104.42 618.55,105.68 618.99,104.72 619.43,105.2 619.87,104.62 620.31,103.45 620.75,104.85 621.19,104.82 621.63,104.2 622.07,105.16 622.51,105.14 622.95,104.77 623.39,104.28 623.83,104.63 624.27,104.94 624.71,104.85 625.15,103.9 625.59,104.03 626.03,103.76 626.47,102.84 626.91,101.6 627.35,101.03 627.79,103.59 628.23,102.48 628.67,103.24 629.11,102.92 629.55,102.35 629.99,103.09 630.43,103.21 630.86,103.02 631.3,102.76 631.74,102.83 632.18,103.06 632.62,101.85 633.06,101.94 633.5,102.22 633.94,102.57 634.38,101.23 634.82,100.79 635.26,101.44 635.7,100.28 636.14,100.58 636.58,101.1 637.02,100.65 637.46,100.78 637.9,100.59 638.34,99.23 638.78,98.15 639.22,99.43 639.66,100.01 640.1,100.67 640.54,99.86 640.98,99.46 641.42,99.61 641.86,99.29 642.3,99.27 642.74,99.5 643.18,98.92 643.62,99.59 644.06,99.55 644.5,98.89 644.94,98.49 645.38,98.33 645.82,98.66 646.26,99.04 646.7,98.55 647.14,98.49 647.58,98.26 648.02,99.15 648.46,97.77 648.9,97.03 649.34,96.97 649.78,97.12 650.21,98.24 650.65,98.09 651.09,97.44 651.53,96.96 651.97,97.05 652.41,96.19 652.85,95.85 653.29,96.4 653.73,96.02 654.17,96.05 654.61,95.68 655.05,95.66 655.49,95.45 655.93,94.88 656.37,94.87 656.81,94.16 657.25,94.53 657.69,94.87 658.13,94.46 658.57,93.87 659.01,93.73 659.45,94.03 659.89,93.48 660.33,93.83 660.77,93.22 661.21,92.92 661.65,93.38 662.09,93.14 662.53,93.8 662.97,92.93 663.41,92.27 663.85,92.36 664.29,92.4 664.73,92.12 665.17,91.93 665.61,91.96 666.05,91.6 666.49,91.66 666.93,90.79 667.37,90.75 667.81,91.23 668.25,90.99 668.69,90.88 669.13,89.9 669.56,90.07 670,90.28 670.44,89.38 670.88,89.55 671.32,88.83 671.76,88.77 672.2,88.55 672.64,88.66 673.08,87.92 673.52,86.6 673.96,85.91 674.4,86.09 674.84,86.97 675.28,86.76 675.72,86.31 676.16,86.24 676.6,86.3 677.04,85.2 677.48,85.14 677.92,85.85 678.36,85.49 678.8,85.12 678.8,96.42 678.36,95.83 677.92,96.34 677.48,96.32 677.04,96.79 676.6,97.49 676.16,97.52 675.72,97.81 675.28,98.56 674.84,98.3 674.4,98.31 673.96,99.04 673.52,98.89 673.08,98.89 672.64,99.7 672.2,98.6 671.76,98.45 671.32,98.88 670.88,98.74 670.44,100.15 670,101.79 669.56,101.53 669.13,99.4 668.69,99.89 668.25,99.98 667.81,100.94 667.37,100.79 666.93,100.73 666.49,100.35 666.05,100.9 665.61,100.67 665.17,102.38 664.73,100.7 664.29,101.56 663.85,102.14 663.41,101.62 662.97,101.95 662.53,103.12 662.09,102.32 661.65,102.54 661.21,103.1 660.77,102.77 660.33,103.29 659.89,102.97 659.45,103.56 659.01,103.17 658.57,103.75 658.13,103.24 657.69,103.89 657.25,104.61 656.81,105.79 656.37,105.19 655.93,105.64 655.49,105.91 655.05,106.01 654.61,105.75 654.17,105.81 653.73,105.88 653.29,107.72 652.85,108.44 652.41,107.89 651.97,106.76 651.53,106.73 651.09,106.92 650.65,108.68 650.21,107.56 649.78,107.53 649.34,108.27 648.9,107.69 648.46,108.08 648.02,107.49 647.58,107.13 647.14,107.4 646.7,107.53 646.26,107.49 645.82,107.82 645.38,107.73 644.94,107.95 644.5,108.13 644.06,108.74 643.62,108.21 643.18,108.3 642.74,108.53 642.3,108.94 641.86,109.09 641.42,109.43 640.98,110.28 640.54,110.03 640.1,110.19 639.66,110.07 639.22,110.83 638.78,110.48 638.34,111.09 637.9,110.68 637.46,110.62 637.02,111.24 636.58,111.71 636.14,110.85 635.7,111.06 635.26,110.93 634.82,111.16 634.38,111.25 633.94,110.72 633.5,111.26 633.06,111.31 632.62,111.4 632.18,111.79 631.74,112.9 631.3,112.14 630.86,112.8 630.43,112.81 629.99,112.6 629.55,113.68 629.11,113.09 628.67,112.83 628.23,113.4 627.79,113.23 627.35,112.52 626.91,112.82 626.47,112.38 626.03,112.19 625.59,113.08 625.15,112.66 624.71,112.38 624.27,112.64 623.83,112.66 623.39,112.96 622.95,112.79 622.51,113.7 622.07,113.7 621.63,113.65 621.19,115.21 620.75,114.38 620.31,114.23 619.87,114.9 619.43,114.76 618.99,115.04 618.55,114.6 618.11,115.73 617.67,114.5 617.23,114.75 616.79,115.11 616.35,115.94 615.91,115.17 615.47,115.19 615.03,115.64 614.59,115.93 614.15,115.67 613.71,115.06 613.27,115.2 612.83,115.47 612.39,114.54 611.95,115.92 611.52,116.99 611.08,116.03 610.64,115.48 610.2,115.5 609.76,116.03 609.32,115.91 608.88,116.48 608.44,116.63 608,117.77 607.56,118.42 607.12,119.3 606.68,119.28 606.24,118.55 605.8,117.03 605.36,116.27 604.92,117.64 604.48,116.36 604.04,115.95 603.6,116.25 603.16,117.09 602.72,116.49 602.28,117.51 601.84,117.1 601.4,117.92 600.96,117.47 600.52,118.72 600.08,119.88 599.64,120.77 599.2,120.57 598.76,118.8 598.32,118.35 597.88,118.7 597.44,121.08 597,120.27 596.56,119.97 596.12,120.39 595.68,120.51 595.24,120.58 594.8,120.02 594.36,120.52 593.92,120.29 593.48,120.5 593.04,120.96 592.6,121 592.17,120.37 591.73,120.82 591.29,121.21 590.85,120.97 590.41,121.14 589.97,121.4 589.53,121.68 589.09,121.39 588.65,120.99 588.21,121.1 587.77,123.12 587.33,121.52 586.89,121.34 586.45,121.93 586.01,122.62 585.57,122.34 585.13,121.59 584.69,122.26 584.25,122.2 583.81,121.8 583.37,122.03 582.93,121.9 582.49,121.55 582.05,122.55 581.61,122.24 581.17,121.46 580.73,121.4 580.29,122.62 579.85,121.96 579.41,122.08 578.97,122.36 578.53,122.45 578.09,122.69 577.65,122.84 577.21,121.86 576.77,122.31 576.33,121.46 575.89,122.23 575.45,121.73 575.01,121.51 574.57,122 574.13,123.19 573.69,121.56 573.25,121.94 572.82,122.44 572.38,122.92 571.94,122.71 571.5,123.12 571.06,122.96 570.62,122.75 570.18,123.31 569.74,122.97 569.3,123.16 568.86,122.96 568.42,122.71 567.98,122.54 567.54,123.05 567.1,123.86 566.66,122.94 566.22,123.18 565.78,123.5 565.34,122.85 564.9,124.04 564.46,124.25 564.02,125.3 563.58,124.82 563.14,125.36 562.7,125.85 562.26,125.94 561.82,125.37 561.38,124.3 560.94,124.82 560.5,124.83 560.06,125.38 559.62,125.48 559.18,125.3 558.74,125.66 558.3,125.74 557.86,125.35 557.42,124.77 556.98,126.16 556.54,126.3 556.1,125.93 555.66,124.88 555.22,124.6 554.78,125.08 554.34,124.82 553.91,125.42 553.47,125.28 553.03,125.26 552.59,125.76 552.15,124.68 551.71,125.01 551.27,125.11 550.83,127.03 550.39,125.69 549.95,125.9 549.51,126.19 549.07,126.33 548.63,127.2 548.19,126.28 547.75,126.83 547.31,126.93 546.87,125.97 546.43,125.91 545.99,126.28 545.55,126.65 545.11,127.04 544.67,126.94 544.23,126.6 543.79,126.41 543.35,126.6 542.91,127.06 542.47,127.82 542.03,127.5 541.59,127.48 541.15,127.69 540.71,127.43 540.27,128.16 539.83,127.05 539.39,127.33 538.95,127.85 538.51,128.49 538.07,127.89 537.63,127.1 537.19,127.71 536.75,127.05 536.31,126.88 535.87,127.3 535.43,128 534.99,126.88 534.56,127.92 534.12,127.07 533.68,126.71 533.24,127.25 532.8,127.73 532.36,126.72 531.92,127.56 531.48,128.67 531.04,127.28 530.6,127.54 530.16,127.87 529.72,127.72 529.28,128 528.84,128.19 528.4,127.63 527.96,127.84 527.52,128.31 527.08,128.53 526.64,129.78 526.2,130.23 525.76,128.89 525.32,129.3 524.88,129.06 524.44,128.81 524,128.72 523.56,129.16 523.12,128.83 522.68,128.54 522.24,129.84 521.8,129.62 521.36,128.77 520.92,128.08 520.48,128.44 520.04,128.14 519.6,128.13 519.16,128.45 518.72,128.5 518.28,128.8 517.84,128.75 517.4,128.2 516.96,128.59 516.52,128.34 516.08,128.69 515.64,129.63 515.21,128.84 514.77,128.65 514.33,129.7 513.89,128.71 513.45,129.98 513.01,129.6 512.57,129.43 512.13,130.16 511.69,129.57 511.25,129.54 510.81,130.45 510.37,129.54 509.93,129.03 509.49,128.87 509.05,130.04 508.61,129 508.17,129.92 507.73,130.47 507.29,129 506.85,128.98 506.41,130.11 505.97,129.66 505.53,129.99 505.09,129.94 504.65,129.92 504.21,129.46 503.77,129.25 503.33,130.48 502.89,129.69 502.45,129.53 502.01,129.27 501.57,129.56 501.13,129.36 500.69,129.17 500.25,129.23 499.81,129.27 499.37,130.01 498.93,129.34 498.49,129.84 498.05,129.78 497.61,129.97 497.17,130.03 496.73,130.7 496.29,130.42 495.86,131.23 495.42,130.52 494.98,130.6 494.54,130.57 494.1,132.59 493.66,132.86 493.22,131.48 492.78,131.52 492.34,132.07 491.9,131.73 491.46,130.94 491.02,131.29 490.58,132.05 490.14,130.63 489.7,131.34 489.26,131.27 488.82,130.98 488.38,131.24 487.94,132.04 487.5,131.27 487.06,131.29 486.62,131.81 486.18,131.26 485.74,131.58 485.3,133.2 484.86,133.52 484.42,132.2 483.98,133.28 483.54,134.84 483.1,134.28 482.66,131.84 482.22,131.59 481.78,131.05 481.34,131.94 480.9,131.26 480.46,132.88 480.02,131.99 479.58,132.63 479.14,131.67 478.7,131.5 478.26,130.53 477.82,130.67 477.38,130.89 476.95,131.31 476.51,131.7 476.07,130.61 475.63,130.46 475.19,130.43 474.75,130.74 474.31,131.35 473.87,131.29 473.43,131.19 472.99,132.02 472.55,133.06 472.11,131.73 471.67,131.52 471.23,131.97 470.79,132.36 470.35,131.73 469.91,132.04 469.47,132.77 469.03,132.79 468.59,132.36 468.15,134.26 467.71,134.05 467.27,133.04 466.83,133.41 466.39,133.31 465.95,133.33 465.51,133.72 465.07,133.21 464.63,133.18 464.19,134.18 463.75,133.33 463.31,132.99 462.87,133.58 462.43,132.89 461.99,133.49 461.55,136.03 461.11,137.24 460.67,135.52 460.23,132.64 459.79,133.23 459.35,132.97 458.91,133.22 458.47,132.88 458.03,133.49 457.6,132.99 457.16,134.02 456.72,133.62 456.28,133.03 455.84,133.37 455.4,133.14 454.96,133.37 454.52,133.27 454.08,133.39 453.64,134.05 453.2,132.87 452.76,132.84 452.32,134.35 451.88,135.41 451.44,136.09 451,136.49 450.56,135.33 450.12,134.06 449.68,134.07 449.24,134.61 448.8,133.92 448.36,133.92 447.92,134.51 447.48,134.26 447.04,133.9 446.6,133.51 446.16,134.03 445.72,134.16 445.28,135.16 444.84,134.86 444.4,134.46 443.96,134.41 443.52,133.84 443.08,134.07 442.64,134.72 442.2,134.02 441.76,134.86 441.32,135.55 440.88,135.78 440.44,134.31 440,135.78 439.56,137.14 439.12,135.79 438.68,134.62 438.25,134.96 437.81,134.87 437.37,134.84 436.93,134.6 436.49,134.59 436.05,134.29 435.61,134.6 435.17,134.24 434.73,136.01 434.29,134.48 433.85,135.73 433.41,134.59 432.97,134.21 432.53,136.25 432.09,135.62 431.65,135.45 431.21,135.92 430.77,135.02 430.33,134.89 429.89,135.22 429.45,135.07 429.01,135.06 428.57,135.22 428.13,134.55 427.69,135.04 427.25,135.52 426.81,134.88 426.37,134.25 425.93,135.02 425.49,135.06 425.05,135.2 424.61,135.22 424.17,137.48 423.73,137.92 423.29,136.87 422.85,136.73 422.41,136.05 421.97,135.47 421.53,135.47 421.09,135.83 420.65,135.19 420.21,134.76 419.77,134.71 419.34,134.92 418.9,135.15 418.46,134.67 418.02,134.3 417.58,134.97 417.14,135.51 416.7,136.04 416.26,135.48 415.82,136.51 415.38,135.88 414.94,136.14 414.5,136.03 414.06,136.2 413.62,135.57 413.18,135.46 412.74,135.64 412.3,135.22 411.86,135.27 411.42,135.44 410.98,135.56 410.54,135.19 410.1,135.2 409.66,135.49 409.22,135.91 408.78,136.4 408.34,136.2 407.9,135.83 407.46,135.82 407.02,135.83 406.58,135.77 406.14,136.58 405.7,135.5 405.26,135.81 404.82,135.69 404.38,136.27 403.94,137.03 403.5,136.34 403.06,136.5 402.62,135.98 402.18,136.11 401.74,135.9 401.3,135.08 400.86,135.7 400.42,135.27 399.99,134.96 399.55,135.48 399.11,135.12 398.67,135.78 398.23,135.69 397.79,135.81 397.35,136.34 396.91,136.26 396.47,136.86 396.03,137.43 395.59,136.32 395.15,136.06 394.71,135.68 394.27,136.99 393.83,135.21 393.39,135.09 392.95,135.88 392.51,135.35 392.07,134.29 391.63,134.43 391.19,135.38 390.75,134.59 390.31,135.93 389.87,135.51 389.43,135.72 388.99,135.76 388.55,135.51 388.11,135.96 387.67,136.77 387.23,136.4 386.79,137.14 386.35,138.64 385.91,137.22 385.47,137.99 385.03,137.44 384.59,137.23 384.15,137.6 383.71,138.59 383.27,136.72 382.83,137.77 382.39,136.75 381.95,136.43 381.51,136.47 381.07,136.35 380.64,136.41 380.2,136.67 379.76,137.43 379.32,138.18 378.88,136.78 378.44,137.37 378,136.46 377.56,136.68 377.12,136.61 376.68,137.26 376.24,137.18 375.8,136.84 375.36,137.19 374.92,136.54 374.48,136.42 374.04,136.44 373.6,136.26 373.16,136.63 372.72,136.21 372.28,137.14 371.84,135.96 371.4,136.44" fill="#259649" fill-opacity="0.27"/>
<path d="M371.4 133.73 L372.68 133.71 L373.96 133.68 L375.24 133.65 L376.52 133.62 L377.8 133.59 L379.08 133.56 L380.37 133.53 L381.65 133.49 L382.93 133.46 L384.21 133.42 L385.49 133.39 L386.77 133.35 L388.05 133.31 L389.33 133.27 L390.61 133.23 L391.89 133.19 L393.17 133.15 L394.45 133.11 L395.74 133.07 L397.02 133.02 L398.3 132.98 L399.58 132.93 L400.86 132.89 L402.14 132.84 L403.42 132.79 L404.7 132.75 L405.98 132.7 L407.26 132.65 L408.54 132.6 L409.82 132.55 L411.11 132.5 L412.39 132.45 L413.67 132.39 L414.95 132.34 L416.23 132.29 L417.51 132.24 L418.79 132.18 L420.07 132.13 L421.35 132.07 L422.63 132.02 L423.91 131.96 L425.19 131.91 L426.48 131.85 L427.76 131.79 L429.04 131.73 L430.32 131.66 L431.6 131.6 L432.88 131.54 L434.16 131.47 L435.44 131.4 L436.72 131.33 L438 131.26 L439.28 131.19 L440.56 131.12 L441.85 131.05 L443.13 130.97 L444.41 130.9 L445.69 130.82 L446.97 130.74 L448.25 130.66 L449.53 130.59 L450.81 130.51 L452.09 130.42 L453.37 130.34 L454.65 130.26 L455.93 130.18 L457.22 130.09 L458.5 130.01 L459.78 129.92 L461.06 129.83 L462.34 129.75 L463.62 129.66 L464.9 129.57 L466.18 129.48 L467.46 129.39 L468.74 129.3 L470.02 129.21 L471.3 129.12 L472.59 129.03 L473.87 128.94 L475.15 128.84 L476.43 128.75 L477.71 128.65 L478.99 128.56 L480.27 128.46 L481.55 128.37 L482.83 128.27 L484.11 128.17 L485.39 128.07 L486.67 127.97 L487.96 127.87 L489.24 127.77 L490.52 127.66 L491.8 127.56 L493.08 127.45 L494.36 127.35 L495.64 127.24 L496.92 127.13 L498.2 127.02 L499.48 126.91 L500.76 126.79 L502.04 126.68 L503.33 126.56 L504.61 126.44 L505.89 126.32 L507.17 126.2 L508.45 126.08 L509.73 125.95 L511.01 125.83 L512.29 125.7 L513.57 125.57 L514.85 125.44 L516.13 125.3 L517.41 125.17 L518.7 125.03 L519.98 124.89 L521.26 124.75 L522.54 124.6 L523.82 124.46 L525.1 124.31 L526.38 124.16 L527.66 124 L528.94 123.84 L530.22 123.67 L531.5 123.49 L532.78 123.31 L534.07 123.13 L535.35 122.94 L536.63 122.74 L537.91 122.55 L539.19 122.34 L540.47 122.14 L541.75 121.93 L543.03 121.72 L544.31 121.5 L545.59 121.29 L546.87 121.07 L548.15 120.85 L549.44 120.62 L550.72 120.4 L552 120.17 L553.28 119.94 L554.56 119.71 L555.84 119.48 L557.12 119.25 L558.4 119.02 L559.68 118.79 L560.96 118.56 L562.24 118.33 L563.52 118.11 L564.81 117.88 L566.09 117.65 L567.37 117.43 L568.65 117.2 L569.93 116.98 L571.21 116.76 L572.49 116.55 L573.77 116.33 L575.05 116.12 L576.33 115.92 L577.61 115.71 L578.89 115.51 L580.18 115.31 L581.46 115.11 L582.74 114.91 L584.02 114.71 L585.3 114.51 L586.58 114.32 L587.86 114.12 L589.14 113.93 L590.42 113.74 L591.7 113.55 L592.98 113.35 L594.26 113.16 L595.55 112.97 L596.83 112.78 L598.11 112.59 L599.39 112.4 L600.67 112.2 L601.95 112.01 L603.23 111.82 L604.51 111.62 L605.79 111.43 L607.07 111.23 L608.35 111.03 L609.63 110.83 L610.92 110.63 L612.2 110.43 L613.48 110.22 L614.76 110.02 L616.04 109.81 L617.32 109.6 L618.6 109.39 L619.88 109.17 L621.16 108.95 L622.44 108.73 L623.72 108.51 L625 108.28 L626.29 108.05 L627.57 107.82 L628.85 107.58 L630.13 107.33 L631.41 107.07 L632.69 106.81 L633.97 106.54 L635.25 106.27 L636.53 105.99 L637.81 105.72 L639.09 105.46 L640.38 105.19 L641.66 104.94 L642.94 104.69 L644.22 104.46 L645.5 104.22 L646.78 103.99 L648.06 103.76 L649.34 103.51 L650.62 103.26 L651.9 102.98 L653.18 102.68 L654.46 102.36 L655.74 102.03 L657.03 101.68 L658.31 101.32 L659.59 100.94 L660.87 100.55 L662.15 100.15 L663.43 99.73 L664.71 99.3 L665.99 98.85 L667.27 98.4 L668.55 97.92 L669.83 97.43 L671.12 96.93 L672.4 96.42 L673.68 95.89 L674.96 95.35 L676.24 94.79 L677.52 94.23 L678.8 93.64" stroke="#3179bf" stroke-width="2.15" fill="none" stroke-linecap="square" stroke-linejoin="round"/>
<path d="M371.4 128.59 L372.68 128.59 L373.96 128.58 L375.24 128.57 L376.52 128.57 L377.8 128.56 L379.08 128.55 L380.37 128.53 L381.65 128.52 L382.93 128.51 L384.21 128.49 L385.49 128.48 L386.77 128.46 L388.05 128.44 L389.33 128.42 L390.61 128.41 L391.89 128.39 L393.17 128.36 L394.45 128.34 L395.74 128.32 L397.02 128.3 L398.3 128.27 L399.58 128.25 L400.86 128.23 L402.14 128.2 L403.42 128.17 L404.7 128.15 L405.98 128.12 L407.26 128.09 L408.54 128.06 L409.82 128.04 L411.11 128.01 L412.39 127.98 L413.67 127.95 L414.95 127.92 L416.23 127.89 L417.51 127.86 L418.79 127.83 L420.07 127.8 L421.35 127.77 L422.63 127.74 L423.91 127.7 L425.19 127.67 L426.48 127.64 L427.76 127.6 L429.04 127.56 L430.32 127.52 L431.6 127.48 L432.88 127.43 L434.16 127.39 L435.44 127.34 L436.72 127.29 L438 127.24 L439.28 127.19 L440.56 127.14 L441.85 127.09 L443.13 127.03 L444.41 126.98 L445.69 126.92 L446.97 126.86 L448.25 126.8 L449.53 126.74 L450.81 126.68 L452.09 126.62 L453.37 126.56 L454.65 126.5 L455.93 126.43 L457.22 126.37 L458.5 126.31 L459.78 126.24 L461.06 126.17 L462.34 126.11 L463.62 126.04 L464.9 125.98 L466.18 125.91 L467.46 125.84 L468.74 125.78 L470.02 125.71 L471.3 125.64 L472.59 125.58 L473.87 125.51 L475.15 125.44 L476.43 125.37 L477.71 125.31 L478.99 125.24 L480.27 125.16 L481.55 125.09 L482.83 125.02 L484.11 124.95 L485.39 124.87 L486.67 124.8 L487.96 124.72 L489.24 124.65 L490.52 124.57 L491.8 124.49 L493.08 124.41 L494.36 124.33 L495.64 124.25 L496.92 124.17 L498.2 124.09 L499.48 124.01 L500.76 123.92 L502.04 123.84 L503.33 123.75 L504.61 123.67 L505.89 123.58 L507.17 123.49 L508.45 123.4 L509.73 123.31 L511.01 123.22 L512.29 123.13 L513.57 123.04 L514.85 122.95 L516.13 122.85 L517.41 122.76 L518.7 122.66 L519.98 122.56 L521.26 122.47 L522.54 122.37 L523.82 122.27 L525.1 122.17 L526.38 122.07 L527.66 121.96 L528.94 121.86 L530.22 121.75 L531.5 121.64 L532.78 121.53 L534.07 121.42 L535.35 121.3 L536.63 121.18 L537.91 121.07 L539.19 120.95 L540.47 120.83 L541.75 120.7 L543.03 120.58 L544.31 120.46 L545.59 120.33 L546.87 120.2 L548.15 120.07 L549.44 119.95 L550.72 119.82 L552 119.68 L553.28 119.55 L554.56 119.42 L555.84 119.29 L557.12 119.15 L558.4 119.02 L559.68 118.88 L560.96 118.75 L562.24 118.61 L563.52 118.48 L564.81 118.34 L566.09 118.2 L567.37 118.07 L568.65 117.93 L569.93 117.79 L571.21 117.66 L572.49 117.52 L573.77 117.39 L575.05 117.25 L576.33 117.11 L577.61 116.98 L578.89 116.84 L580.18 116.7 L581.46 116.57 L582.74 116.43 L584.02 116.29 L585.3 116.14 L586.58 116 L587.86 115.86 L589.14 115.72 L590.42 115.57 L591.7 115.43 L592.98 115.28 L594.26 115.13 L595.55 114.99 L596.83 114.84 L598.11 114.69 L599.39 114.54 L600.67 114.39 L601.95 114.24 L603.23 114.09 L604.51 113.94 L605.79 113.79 L607.07 113.64 L608.35 113.49 L609.63 113.34 L610.92 113.18 L612.2 113.03 L613.48 112.87 L614.76 112.72 L616.04 112.56 L617.32 112.4 L618.6 112.25 L619.88 112.09 L621.16 111.93 L622.44 111.77 L623.72 111.61 L625 111.45 L626.29 111.29 L627.57 111.13 L628.85 110.96 L630.13 110.8 L631.41 110.64 L632.69 108.38 L633.97 108.26 L635.25 108.12 L636.53 107.98 L637.81 107.83 L639.09 107.67 L640.38 107.5 L641.66 107.32 L642.94 107.13 L644.22 106.93 L645.5 106.71 L646.78 106.49 L648.06 106.25 L649.34 106 L650.62 105.73 L651.9 105.45 L653.18 105.16 L654.46 104.86 L655.74 104.54 L657.03 104.21 L658.31 103.87 L659.59 103.51 L660.87 103.13 L662.15 102.75 L663.43 102.34 L664.71 101.93 L665.99 101.5 L667.27 101.06 L668.55 100.6 L669.83 100.13 L671.12 99.65 L672.4 99.15 L673.68 98.64 L674.96 98.12 L676.24 97.58 L677.52 97.03 L678.8 96.47" stroke="#f07823" stroke-width="2.15" fill="none" stroke-linecap="square" stroke-linejoin="round"/>
<path d="M371.4 132.92 L372.68 132.9 L373.96 132.88 L375.24 132.85 L376.52 132.83 L377.8 132.81 L379.08 132.78 L380.37 132.75 L381.65 132.72 L382.93 132.69 L384.21 132.66 L385.49 132.63 L386.77 132.6 L388.05 132.56 L389.33 132.53 L390.61 132.49 L391.89 132.45 L393.17 132.42 L394.45 132.38 L395.74 132.34 L397.02 132.3 L398.3 132.25 L399.58 132.21 L400.86 132.17 L402.14 132.12 L403.42 132.08 L404.7 132.03 L405.98 131.99 L407.26 131.94 L408.54 131.89 L409.82 131.84 L411.11 131.8 L412.39 131.75 L413.67 131.7 L414.95 131.65 L416.23 131.59 L417.51 131.54 L418.79 131.49 L420.07 131.44 L421.35 131.39 L422.63 131.33 L423.91 131.28 L425.19 131.22 L426.48 131.16 L427.76 131.1 L429.04 131.04 L430.32 130.98 L431.6 130.91 L432.88 130.84 L434.16 130.77 L435.44 130.7 L436.72 130.63 L438 130.55 L439.28 130.48 L440.56 130.4 L441.85 130.32 L443.13 130.24 L444.41 130.16 L445.69 130.08 L446.97 129.99 L448.25 129.91 L449.53 129.82 L450.81 129.74 L452.09 129.65 L453.37 129.56 L454.65 129.48 L455.93 129.39 L457.22 129.3 L458.5 129.21 L459.78 129.12 L461.06 129.03 L462.34 128.94 L463.62 128.85 L464.9 128.75 L466.18 128.66 L467.46 128.57 L468.74 128.48 L470.02 128.39 L471.3 128.3 L472.59 128.21 L473.87 128.12 L475.15 128.03 L476.43 127.94 L477.71 127.85 L478.99 127.76 L480.27 127.67 L481.55 127.58 L482.83 127.49 L484.11 127.4 L485.39 127.31 L486.67 127.21 L487.96 127.12 L489.24 127.03 L490.52 126.93 L491.8 126.84 L493.08 126.74 L494.36 126.65 L495.64 126.55 L496.92 126.45 L498.2 126.35 L499.48 126.26 L500.76 126.16 L502.04 126.06 L503.33 125.96 L504.61 125.85 L505.89 125.75 L507.17 125.65 L508.45 125.54 L509.73 125.44 L511.01 125.33 L512.29 125.22 L513.57 125.12 L514.85 125.01 L516.13 124.9 L517.41 124.79 L518.7 124.67 L519.98 124.56 L521.26 124.45 L522.54 124.33 L523.82 124.21 L525.1 124.1 L526.38 123.98 L527.66 123.85 L528.94 123.73 L530.22 123.6 L531.5 123.48 L532.78 123.34 L534.07 123.21 L535.35 123.08 L536.63 122.94 L537.91 122.81 L539.19 122.67 L540.47 122.53 L541.75 122.39 L543.03 122.24 L544.31 122.1 L545.59 121.95 L546.87 121.81 L548.15 121.66 L549.44 121.51 L550.72 121.36 L552 121.21 L553.28 121.06 L554.56 120.91 L555.84 120.76 L557.12 120.61 L558.4 120.45 L559.68 120.3 L560.96 120.15 L562.24 119.99 L563.52 119.84 L564.81 119.69 L566.09 119.53 L567.37 119.38 L568.65 119.23 L569.93 119.07 L571.21 118.92 L572.49 118.77 L573.77 118.62 L575.05 118.46 L576.33 118.31 L577.61 118.16 L578.89 118.01 L580.18 117.86 L581.46 117.71 L582.74 117.55 L584.02 117.4 L585.3 117.25 L586.58 117.09 L587.86 116.94 L589.14 116.78 L590.42 116.62 L591.7 116.47 L592.98 116.31 L594.26 116.15 L595.55 116 L596.83 115.84 L598.11 113.67 L599.39 113.51 L600.67 113.34 L601.95 113.16 L603.23 112.98 L604.51 112.8 L605.79 112.6 L607.07 112.41 L608.35 112.2 L609.63 112 L610.92 111.78 L612.2 111.57 L613.48 111.35 L614.76 111.12 L616.04 110.89 L617.32 110.66 L618.6 110.42 L619.88 110.18 L621.16 109.94 L622.44 109.69 L623.72 109.44 L625 109.19 L626.29 108.93 L627.57 108.68 L628.85 108.42 L630.13 108.14 L631.41 107.87 L632.69 107.58 L633.97 107.28 L635.25 106.98 L636.53 106.67 L637.81 106.34 L639.09 106.01 L640.38 105.67 L641.66 105.32 L642.94 104.96 L644.22 104.58 L645.5 104.18 L646.78 103.78 L648.06 103.36 L649.34 102.93 L650.62 102.5 L651.9 102.06 L653.18 101.61 L654.46 101.16 L655.74 100.7 L657.03 100.24 L658.31 99.77 L659.59 99.3 L660.87 98.82 L662.15 98.34 L663.43 97.85 L664.71 97.35 L665.99 96.85 L667.27 96.34 L668.55 95.82 L669.83 95.3 L671.12 94.77 L672.4 94.24 L673.68 93.7 L674.96 93.15 L676.24 92.59 L677.52 92.03 L678.8 91.46" stroke="#259649" stroke-width="2.15" fill="none" stroke-linecap="square" stroke-linejoin="round"/>
<path d="M371.7 15.95V230.1 M678.8 15.95V230.1 M371.7 15.95H678.8 M371.7 230.2H678.8" fill="none" stroke="#333333" stroke-width="1.05" stroke-linecap="square"/>
<path d="M371.4 230.1v3.4M422.63 230.1v3.4M473.87 230.1v3.4M525.1 230.1v3.4M576.33 230.1v3.4M627.57 230.1v3.4M678.8 230.1v3.4M371.4 208.69h-3.4M371.4 165.85h-3.4M371.4 123.03h-3.4M371.4 80.2h-3.4M371.4 37.37h-3.4" stroke="#333333" stroke-width="1" fill="none"/>
<text x="371.4" y="245.9" font-size="11.2" text-anchor="middle" fill="#262626" textLength="22.37" lengthAdjust="spacingAndGlyphs">−40</text>
<text x="422.63" y="245.9" font-size="11.2" text-anchor="middle" fill="#262626" textLength="22.37" lengthAdjust="spacingAndGlyphs">−20</text>
<text x="473.87" y="245.9" font-size="11.2" text-anchor="middle" fill="#262626" textLength="6.74" lengthAdjust="spacingAndGlyphs">0</text>
<text x="525.1" y="245.9" font-size="11.2" text-anchor="middle" fill="#262626" textLength="13.49" lengthAdjust="spacingAndGlyphs">20</text>
<text x="576.33" y="245.9" font-size="11.2" text-anchor="middle" fill="#262626" textLength="13.49" lengthAdjust="spacingAndGlyphs">40</text>
<text x="627.57" y="245.9" font-size="11.2" text-anchor="middle" fill="#262626" textLength="13.49" lengthAdjust="spacingAndGlyphs">60</text>
<text x="678.8" y="245.9" font-size="11.2" text-anchor="middle" fill="#262626" textLength="13.49" lengthAdjust="spacingAndGlyphs">80</text>
<text x="525.1" y="10" font-size="13.3" text-anchor="middle" fill="#262626" textLength="123.06" lengthAdjust="spacingAndGlyphs">With Compensation</text>
<text x="525.1" y="259.8" font-size="11.05" text-anchor="middle" fill="#262626" textLength="90.19" lengthAdjust="spacingAndGlyphs">Temperature (°C)</text>
<text transform="translate(8.0 123.02) rotate(-90)" x="0" y="0" font-size="11.05" text-anchor="middle" fill="#262626" textLength="111.04" lengthAdjust="spacingAndGlyphs">Measured Offset (µV)</text>
<rect x="582.5" y="21.3" width="91.7" height="48.7" rx="2.6" ry="2.6" fill="#fff" fill-opacity="0.8" stroke="#cccccc" stroke-width="0.9"/>
<path d="M586.1 29.85H608.9" stroke="#3179bf" stroke-width="2.1"/>
<text x="616.3" y="33.2" font-size="11.15" text-anchor="start" fill="#262626" textLength="52.87" lengthAdjust="spacingAndGlyphs">Channel 1</text>
<path d="M586.1 45H608.9" stroke="#f07823" stroke-width="2.1"/>
<text x="616.3" y="48.35" font-size="11.15" text-anchor="start" fill="#262626" textLength="52.87" lengthAdjust="spacingAndGlyphs">Channel 2</text>
<path d="M586.1 60.15H608.9" stroke="#259649" stroke-width="2.1"/>
<text x="616.3" y="63.5" font-size="11.15" text-anchor="start" fill="#262626" textLength="52.87" lengthAdjust="spacingAndGlyphs">Channel 3</text>
</svg></body></html>
